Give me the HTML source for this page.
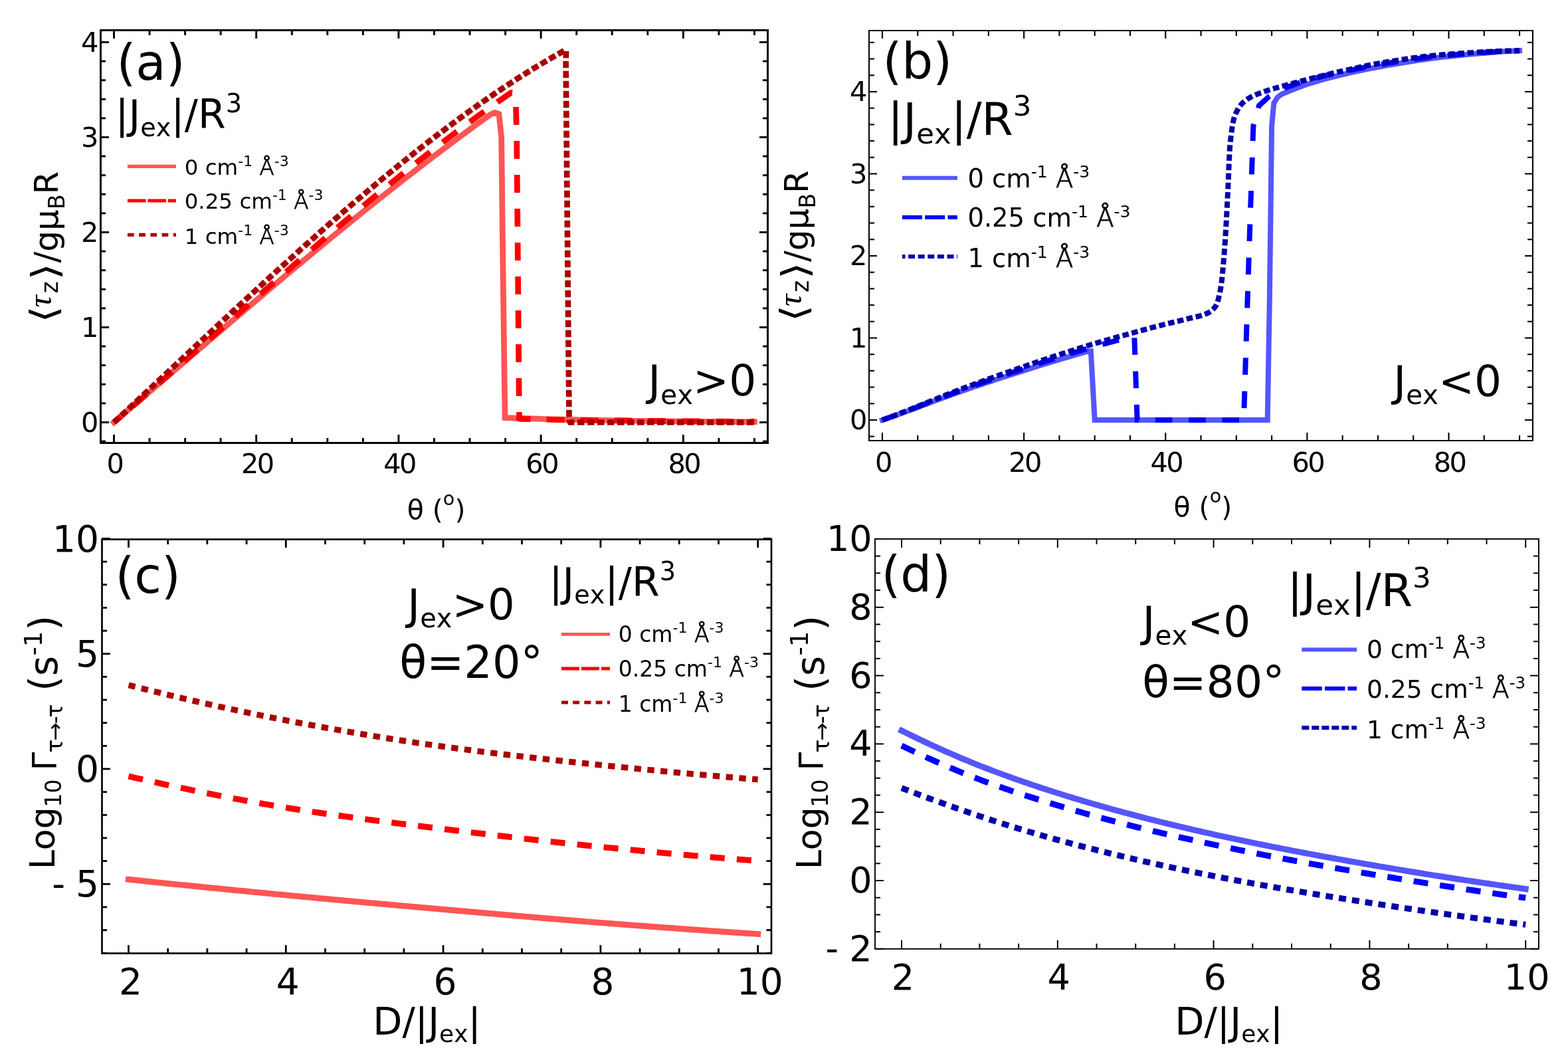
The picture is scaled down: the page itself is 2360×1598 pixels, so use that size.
<!DOCTYPE html>
<html><head><meta charset="utf-8"><style>
html,body{margin:0;padding:0;background:#fff;}
svg{display:block;}
text{font-family:"DejaVu Sans","Liberation Sans",sans-serif;font-kerning:none;fill:#000;}
</style></head><body>
<svg width="2360" height="1598" viewBox="0 0 2360 1598">
<rect width="2360" height="1598" fill="#fff"/>
<path d="M171.5,635.5 L176.26,631.42 L181.02,627.34 L185.78,623.25 L190.55,619.16 L195.31,615.08 L200.07,610.99 L204.83,606.9 L209.59,602.81 L214.35,598.71 L219.11,594.62 L223.88,590.53 L228.64,586.43 L233.4,582.34 L238.16,578.24 L242.92,574.15 L247.68,570.06 L252.44,565.96 L257.21,561.87 L261.97,557.77 L266.73,553.68 L271.49,549.59 L276.25,545.49 L281.01,541.4 L285.77,537.31 L290.54,533.22 L295.3,529.14 L300.06,525.05 L304.82,520.97 L309.58,516.88 L314.34,512.8 L319.1,508.72 L323.87,504.65 L328.63,500.57 L333.39,496.5 L338.15,492.43 L342.91,488.36 L347.67,484.3 L352.43,480.23 L357.2,476.18 L361.96,472.12 L366.72,468.07 L371.48,464.02 L376.24,459.97 L381,455.93 L385.77,451.89 L390.53,447.86 L395.29,443.82 L400.05,439.8 L404.81,435.78 L409.57,431.76 L414.33,427.74 L419.1,423.74 L423.86,419.73 L428.62,415.73 L433.38,411.74 L438.14,407.75 L442.9,403.76 L447.66,399.79 L452.43,395.81 L457.19,391.85 L461.95,387.88 L466.71,383.93 L471.47,379.98 L476.23,376.04 L480.99,372.1 L485.76,368.17 L490.52,364.24 L495.28,360.33 L500.04,356.42 L504.8,352.51 L509.56,348.61 L514.32,344.73 L519.09,340.84 L523.85,336.97 L528.61,333.1 L533.37,329.24 L538.13,325.39 L542.89,321.55 L547.65,317.71 L552.42,313.88 L557.18,310.06 L561.94,306.25 L566.7,302.45 L571.46,298.66 L576.22,294.87 L580.98,291.1 L585.75,287.33 L590.51,283.57 L595.27,279.83 L600.03,276.09 L604.79,272.36 L609.55,268.64 L614.31,264.93 L619.08,261.23 L623.84,257.54 L628.6,253.87 L633.36,250.2 L638.12,246.54 L642.88,242.89 L647.64,239.26 L652.41,235.63 L657.17,232.02 L661.93,228.41 L666.69,224.82 L671.45,221.24 L676.21,217.67 L680.97,214.12 L685.74,210.57 L690.5,207.04 L695.26,203.51 L700.02,200.01 L704.78,196.51 L709.54,193.02 L714.3,189.55 L719.07,186.09 L723.83,182.65 L728.59,179.21 L733.35,175.79 L738.11,172.39 L744.54,169.32 L750.97,171.46 L754.71,206.5 L756.32,349.5 L759.53,592.6 L760.07,628.49 L762.75,628.58 L775.6,629.08 L788.45,629.54 L801.31,629.97 L814.16,630.37 L827.01,630.74 L839.87,631.09 L852.72,631.41 L865.57,631.7 L878.43,631.98 L891.28,632.23 L904.13,632.47 L916.99,632.69 L929.84,632.89 L942.69,633.08 L955.55,633.25 L968.4,633.42 L981.25,633.57 L994.1,633.71 L1006.96,633.84 L1019.81,633.96 L1032.66,634.07 L1045.52,634.17 L1058.37,634.27 L1071.22,634.36 L1084.08,634.44 L1096.93,634.52 L1109.78,634.59 L1122.64,634.65 L1135.49,634.71" fill="none" stroke="#ff5555" stroke-width="8.7" stroke-linecap="square" stroke-linejoin="miter" stroke-miterlimit="1.5"/>
<path d="M171.5,635.5 L176.52,631.2 L181.54,626.89 L186.57,622.57 L191.59,618.25 L196.61,613.91 L201.63,609.57 L206.66,605.23 L211.68,600.88 L216.7,596.52 L221.72,592.16 L226.75,587.79 L231.77,583.42 L236.79,579.04 L241.81,574.66 L246.84,570.27 L251.86,565.88 L256.88,561.48 L261.9,557.08 L266.93,552.68 L271.95,548.28 L276.97,543.87 L281.99,539.46 L287.02,535.04 L292.04,530.63 L297.06,526.21 L302.08,521.79 L307.11,517.37 L312.13,512.95 L317.15,508.53 L322.17,504.11 L327.2,499.68 L332.22,495.26 L337.24,490.84 L342.26,486.41 L347.29,481.99 L352.31,477.57 L357.33,473.15 L362.35,468.74 L367.38,464.32 L372.4,459.91 L377.42,455.49 L382.44,451.09 L387.47,446.68 L392.49,442.28 L397.51,437.88 L402.53,433.48 L407.56,429.09 L412.58,424.7 L417.6,420.31 L422.62,415.93 L427.65,411.56 L432.67,407.19 L437.69,402.82 L442.71,398.47 L447.74,394.11 L452.76,389.77 L457.78,385.42 L462.8,381.09 L467.83,376.76 L472.85,372.44 L477.87,368.13 L482.89,363.83 L487.92,359.53 L492.94,355.24 L497.96,350.96 L502.98,346.69 L508.01,342.43 L513.03,338.17 L518.05,333.93 L523.07,329.69 L528.1,325.47 L533.12,321.26 L538.14,317.05 L543.16,312.86 L548.19,308.68 L553.21,304.51 L558.23,300.35 L563.25,296.2 L568.28,292.07 L573.3,287.94 L578.32,283.83 L583.34,279.73 L588.36,275.65 L593.39,271.58 L598.41,267.52 L603.43,263.48 L608.45,259.45 L613.48,255.43 L618.5,251.43 L623.52,247.44 L628.54,243.47 L633.57,239.52 L638.59,235.58 L643.61,231.65 L648.63,227.74 L653.66,223.85 L658.68,219.98 L663.7,216.12 L668.72,212.28 L673.75,208.45 L678.77,204.65 L683.79,200.86 L688.81,197.09 L693.84,193.34 L698.86,189.6 L703.88,185.89 L708.9,182.19 L713.93,178.52 L718.95,174.86 L723.97,171.23 L728.99,167.61 L734.02,164.02 L739.04,160.44 L744.06,156.89 L749.08,153.36 L754.11,149.85 L759.13,146.36 L764.15,142.89 L769.17,139.45 L773.46,140 L776.14,146.44 L777.74,206.5 L781.49,629.78 L783.1,630.35 L785.24,630.43 L797.32,630.69 L809.4,630.94 L821.47,631.18 L833.55,631.41 L845.63,631.62 L857.71,631.82 L869.78,632.02 L881.86,632.2 L893.94,632.37 L906.02,632.53 L918.09,632.69 L930.17,632.84 L942.25,632.97 L954.33,633.11 L966.4,633.23 L978.48,633.35 L990.56,633.46 L1002.64,633.57 L1014.71,633.67 L1026.79,633.77 L1038.87,633.86 L1050.95,633.94 L1063.02,634.02 L1075.1,634.1 L1087.18,634.17 L1099.26,634.24 L1111.33,634.31 L1123.41,634.37 L1135.49,634.43" fill="none" stroke="#ff0000" stroke-width="8.7" stroke-linecap="butt" stroke-linejoin="miter" stroke-miterlimit="1.5" stroke-dasharray="27 24" stroke-dashoffset="13"/>
<path d="M171.5,635.5 L176.05,631.28 L180.6,627.06 L185.15,622.84 L189.7,618.61 L194.25,614.38 L198.8,610.15 L203.35,605.91 L207.9,601.67 L212.45,597.43 L217,593.19 L221.55,588.94 L226.1,584.69 L230.65,580.44 L235.21,576.19 L239.76,571.93 L244.31,567.68 L248.86,563.42 L253.41,559.17 L257.96,554.91 L262.51,550.65 L267.06,546.4 L271.61,542.14 L276.16,537.88 L280.71,533.63 L285.26,529.37 L289.81,525.12 L294.36,520.86 L298.91,516.61 L303.46,512.36 L308.01,508.11 L312.56,503.87 L317.11,499.62 L321.66,495.38 L326.21,491.14 L330.76,486.91 L335.31,482.67 L339.86,478.44 L344.41,474.22 L348.96,469.99 L353.52,465.78 L358.07,461.56 L362.62,457.35 L367.17,453.14 L371.72,448.94 L376.27,444.75 L380.82,440.56 L385.37,436.37 L389.92,432.19 L394.47,428.02 L399.02,423.85 L403.57,419.69 L408.12,415.53 L412.67,411.38 L417.22,407.24 L421.77,403.11 L426.32,398.98 L430.87,394.86 L435.42,390.75 L439.97,386.64 L444.52,382.55 L449.07,378.46 L453.62,374.38 L458.17,370.31 L462.72,366.25 L467.27,362.19 L471.82,358.15 L476.38,354.12 L480.93,350.09 L485.48,346.08 L490.03,342.08 L494.58,338.08 L499.13,334.1 L503.68,330.13 L508.23,326.17 L512.78,322.22 L517.33,318.28 L521.88,314.36 L526.43,310.44 L530.98,306.54 L535.53,302.65 L540.08,298.78 L544.63,294.91 L549.18,291.06 L553.73,287.22 L558.28,283.4 L562.83,279.59 L567.38,275.79 L571.93,272.01 L576.48,268.24 L581.03,264.48 L585.58,260.74 L590.13,257.02 L594.69,253.31 L599.24,249.61 L603.79,245.93 L608.34,242.27 L612.89,238.62 L617.44,234.99 L621.99,231.38 L626.54,227.78 L631.09,224.19 L635.64,220.63 L640.19,217.08 L644.74,213.55 L649.29,210.04 L653.84,206.54 L658.39,203.07 L662.94,199.61 L667.49,196.17 L672.04,192.75 L676.59,189.34 L681.14,185.96 L685.69,182.6 L690.24,179.25 L694.79,175.93 L699.34,172.62 L703.89,169.34 L708.44,166.07 L712.99,162.83 L717.55,159.6 L722.1,156.4 L726.65,153.22 L731.2,150.06 L735.75,146.92 L740.3,143.81 L744.85,140.71 L749.4,137.64 L753.95,134.59 L758.5,131.56 L763.05,128.56 L767.6,125.58 L772.15,122.62 L776.7,119.68 L781.25,116.77 L785.8,113.89 L790.35,111.02 L794.9,108.19 L799.45,105.37 L804,102.58 L808.55,99.82 L813.1,97.08 L817.65,94.37 L822.2,91.68 L826.75,89.02 L831.3,86.38 L835.86,83.77 L840.41,81.19 L844.96,78.63 L849.51,76.1 L852.18,75.65 L851.65,92.1 L856.58,632.64 L858.08,635.5 L921.27,635.5 L1028.38,635.5 L1135.49,635.5" fill="none" stroke="#aa0000" stroke-width="8.7" stroke-linecap="butt" stroke-linejoin="miter" stroke-miterlimit="1.5" stroke-dasharray="10.5 4.5" stroke-dashoffset="0"/>
<rect x="151.5" y="45.5" width="1004" height="621" fill="none" stroke="#000" stroke-width="3" stroke-linecap="square"/>
<line x1="171.5" y1="666.5" x2="171.5" y2="654" stroke="#000" stroke-width="2.9"/>
<line x1="171.5" y1="45.5" x2="171.5" y2="58" stroke="#000" stroke-width="2.9"/>
<line x1="225.06" y1="666.5" x2="225.06" y2="659" stroke="#000" stroke-width="2.9"/>
<line x1="225.06" y1="45.5" x2="225.06" y2="53" stroke="#000" stroke-width="2.9"/>
<line x1="278.61" y1="666.5" x2="278.61" y2="659" stroke="#000" stroke-width="2.9"/>
<line x1="278.61" y1="45.5" x2="278.61" y2="53" stroke="#000" stroke-width="2.9"/>
<line x1="332.16" y1="666.5" x2="332.16" y2="659" stroke="#000" stroke-width="2.9"/>
<line x1="332.16" y1="45.5" x2="332.16" y2="53" stroke="#000" stroke-width="2.9"/>
<line x1="385.72" y1="666.5" x2="385.72" y2="654" stroke="#000" stroke-width="2.9"/>
<line x1="385.72" y1="45.5" x2="385.72" y2="58" stroke="#000" stroke-width="2.9"/>
<line x1="439.28" y1="666.5" x2="439.28" y2="659" stroke="#000" stroke-width="2.9"/>
<line x1="439.28" y1="45.5" x2="439.28" y2="53" stroke="#000" stroke-width="2.9"/>
<line x1="492.83" y1="666.5" x2="492.83" y2="659" stroke="#000" stroke-width="2.9"/>
<line x1="492.83" y1="45.5" x2="492.83" y2="53" stroke="#000" stroke-width="2.9"/>
<line x1="546.38" y1="666.5" x2="546.38" y2="659" stroke="#000" stroke-width="2.9"/>
<line x1="546.38" y1="45.5" x2="546.38" y2="53" stroke="#000" stroke-width="2.9"/>
<line x1="599.94" y1="666.5" x2="599.94" y2="654" stroke="#000" stroke-width="2.9"/>
<line x1="599.94" y1="45.5" x2="599.94" y2="58" stroke="#000" stroke-width="2.9"/>
<line x1="653.5" y1="666.5" x2="653.5" y2="659" stroke="#000" stroke-width="2.9"/>
<line x1="653.5" y1="45.5" x2="653.5" y2="53" stroke="#000" stroke-width="2.9"/>
<line x1="707.05" y1="666.5" x2="707.05" y2="659" stroke="#000" stroke-width="2.9"/>
<line x1="707.05" y1="45.5" x2="707.05" y2="53" stroke="#000" stroke-width="2.9"/>
<line x1="760.61" y1="666.5" x2="760.61" y2="659" stroke="#000" stroke-width="2.9"/>
<line x1="760.61" y1="45.5" x2="760.61" y2="53" stroke="#000" stroke-width="2.9"/>
<line x1="814.16" y1="666.5" x2="814.16" y2="654" stroke="#000" stroke-width="2.9"/>
<line x1="814.16" y1="45.5" x2="814.16" y2="58" stroke="#000" stroke-width="2.9"/>
<line x1="867.72" y1="666.5" x2="867.72" y2="659" stroke="#000" stroke-width="2.9"/>
<line x1="867.72" y1="45.5" x2="867.72" y2="53" stroke="#000" stroke-width="2.9"/>
<line x1="921.27" y1="666.5" x2="921.27" y2="659" stroke="#000" stroke-width="2.9"/>
<line x1="921.27" y1="45.5" x2="921.27" y2="53" stroke="#000" stroke-width="2.9"/>
<line x1="974.83" y1="666.5" x2="974.83" y2="659" stroke="#000" stroke-width="2.9"/>
<line x1="974.83" y1="45.5" x2="974.83" y2="53" stroke="#000" stroke-width="2.9"/>
<line x1="1028.38" y1="666.5" x2="1028.38" y2="654" stroke="#000" stroke-width="2.9"/>
<line x1="1028.38" y1="45.5" x2="1028.38" y2="58" stroke="#000" stroke-width="2.9"/>
<line x1="1081.93" y1="666.5" x2="1081.93" y2="659" stroke="#000" stroke-width="2.9"/>
<line x1="1081.93" y1="45.5" x2="1081.93" y2="53" stroke="#000" stroke-width="2.9"/>
<line x1="1135.49" y1="666.5" x2="1135.49" y2="659" stroke="#000" stroke-width="2.9"/>
<line x1="1135.49" y1="45.5" x2="1135.49" y2="53" stroke="#000" stroke-width="2.9"/>
<line x1="151.5" y1="664.1" x2="159" y2="664.1" stroke="#000" stroke-width="2.9"/>
<line x1="1155.5" y1="664.1" x2="1148" y2="664.1" stroke="#000" stroke-width="2.9"/>
<line x1="151.5" y1="635.5" x2="164" y2="635.5" stroke="#000" stroke-width="2.9"/>
<line x1="1155.5" y1="635.5" x2="1143" y2="635.5" stroke="#000" stroke-width="2.9"/>
<line x1="151.5" y1="606.9" x2="159" y2="606.9" stroke="#000" stroke-width="2.9"/>
<line x1="1155.5" y1="606.9" x2="1148" y2="606.9" stroke="#000" stroke-width="2.9"/>
<line x1="151.5" y1="578.3" x2="159" y2="578.3" stroke="#000" stroke-width="2.9"/>
<line x1="1155.5" y1="578.3" x2="1148" y2="578.3" stroke="#000" stroke-width="2.9"/>
<line x1="151.5" y1="549.7" x2="159" y2="549.7" stroke="#000" stroke-width="2.9"/>
<line x1="1155.5" y1="549.7" x2="1148" y2="549.7" stroke="#000" stroke-width="2.9"/>
<line x1="151.5" y1="521.1" x2="159" y2="521.1" stroke="#000" stroke-width="2.9"/>
<line x1="1155.5" y1="521.1" x2="1148" y2="521.1" stroke="#000" stroke-width="2.9"/>
<line x1="151.5" y1="492.5" x2="164" y2="492.5" stroke="#000" stroke-width="2.9"/>
<line x1="1155.5" y1="492.5" x2="1143" y2="492.5" stroke="#000" stroke-width="2.9"/>
<line x1="151.5" y1="463.9" x2="159" y2="463.9" stroke="#000" stroke-width="2.9"/>
<line x1="1155.5" y1="463.9" x2="1148" y2="463.9" stroke="#000" stroke-width="2.9"/>
<line x1="151.5" y1="435.3" x2="159" y2="435.3" stroke="#000" stroke-width="2.9"/>
<line x1="1155.5" y1="435.3" x2="1148" y2="435.3" stroke="#000" stroke-width="2.9"/>
<line x1="151.5" y1="406.7" x2="159" y2="406.7" stroke="#000" stroke-width="2.9"/>
<line x1="1155.5" y1="406.7" x2="1148" y2="406.7" stroke="#000" stroke-width="2.9"/>
<line x1="151.5" y1="378.1" x2="159" y2="378.1" stroke="#000" stroke-width="2.9"/>
<line x1="1155.5" y1="378.1" x2="1148" y2="378.1" stroke="#000" stroke-width="2.9"/>
<line x1="151.5" y1="349.5" x2="164" y2="349.5" stroke="#000" stroke-width="2.9"/>
<line x1="1155.5" y1="349.5" x2="1143" y2="349.5" stroke="#000" stroke-width="2.9"/>
<line x1="151.5" y1="320.9" x2="159" y2="320.9" stroke="#000" stroke-width="2.9"/>
<line x1="1155.5" y1="320.9" x2="1148" y2="320.9" stroke="#000" stroke-width="2.9"/>
<line x1="151.5" y1="292.3" x2="159" y2="292.3" stroke="#000" stroke-width="2.9"/>
<line x1="1155.5" y1="292.3" x2="1148" y2="292.3" stroke="#000" stroke-width="2.9"/>
<line x1="151.5" y1="263.7" x2="159" y2="263.7" stroke="#000" stroke-width="2.9"/>
<line x1="1155.5" y1="263.7" x2="1148" y2="263.7" stroke="#000" stroke-width="2.9"/>
<line x1="151.5" y1="235.1" x2="159" y2="235.1" stroke="#000" stroke-width="2.9"/>
<line x1="1155.5" y1="235.1" x2="1148" y2="235.1" stroke="#000" stroke-width="2.9"/>
<line x1="151.5" y1="206.5" x2="164" y2="206.5" stroke="#000" stroke-width="2.9"/>
<line x1="1155.5" y1="206.5" x2="1143" y2="206.5" stroke="#000" stroke-width="2.9"/>
<line x1="151.5" y1="177.9" x2="159" y2="177.9" stroke="#000" stroke-width="2.9"/>
<line x1="1155.5" y1="177.9" x2="1148" y2="177.9" stroke="#000" stroke-width="2.9"/>
<line x1="151.5" y1="149.3" x2="159" y2="149.3" stroke="#000" stroke-width="2.9"/>
<line x1="1155.5" y1="149.3" x2="1148" y2="149.3" stroke="#000" stroke-width="2.9"/>
<line x1="151.5" y1="120.7" x2="159" y2="120.7" stroke="#000" stroke-width="2.9"/>
<line x1="1155.5" y1="120.7" x2="1148" y2="120.7" stroke="#000" stroke-width="2.9"/>
<line x1="151.5" y1="92.1" x2="159" y2="92.1" stroke="#000" stroke-width="2.9"/>
<line x1="1155.5" y1="92.1" x2="1148" y2="92.1" stroke="#000" stroke-width="2.9"/>
<line x1="151.5" y1="63.5" x2="164" y2="63.5" stroke="#000" stroke-width="2.9"/>
<line x1="1155.5" y1="63.5" x2="1143" y2="63.5" stroke="#000" stroke-width="2.9"/>
<text x="148.5" y="649.5" font-size="41.5" text-anchor="end">0</text>
<text x="148.5" y="506.5" font-size="41.5" text-anchor="end">1</text>
<text x="148.5" y="363.5" font-size="41.5" text-anchor="end">2</text>
<text x="148.5" y="220.5" font-size="41.5" text-anchor="end">3</text>
<text x="148.5" y="77.5" font-size="41.5" text-anchor="end">4</text>
<text x="172.5" y="712" font-size="41.5" text-anchor="middle" letter-spacing="-2.6">0</text>
<text x="386.72" y="712" font-size="41.5" text-anchor="middle" letter-spacing="-2.6">20</text>
<text x="600.94" y="712" font-size="41.5" text-anchor="middle" letter-spacing="-2.6">40</text>
<text x="815.16" y="712" font-size="41.5" text-anchor="middle" letter-spacing="-2.6">60</text>
<text x="1029.38" y="712" font-size="41.5" text-anchor="middle" letter-spacing="-2.6">80</text>
<text x="175.5" y="120" font-size="74" text-anchor="start">(a)</text>
<text x="173.4" y="193" font-size="60" text-anchor="start">|J<tspan font-size="38.3" dy="11.5">ex</tspan><tspan dy="-11.5">|/R</tspan><tspan font-size="38.3" dy="-24.5">3</tspan></text>
<line x1="192" y1="250.3" x2="265" y2="250.3" stroke="#ff5555" stroke-width="5.2"/>
<text x="277.7" y="263" font-size="32.5" text-anchor="start">0 cm<tspan font-size="22" dy="-13.4">-1</tspan><tspan dy="13.4"> </tspan><tspan style="font-weight:200;stroke:#000;stroke-width:0.9px">Å</tspan><tspan font-size="22" dy="-13.4">-3</tspan></text>
<line x1="192" y1="302" x2="265" y2="302" stroke="#ff0000" stroke-width="5.2" stroke-dasharray="27.5 3"/>
<text x="277.7" y="313.9" font-size="32.5" text-anchor="start">0.25 cm<tspan font-size="22" dy="-13.4">-1</tspan><tspan dy="13.4"> </tspan><tspan style="font-weight:200;stroke:#000;stroke-width:0.9px">Å</tspan><tspan font-size="22" dy="-13.4">-3</tspan></text>
<line x1="192" y1="353.4" x2="265" y2="353.4" stroke="#aa0000" stroke-width="5.2" stroke-dasharray="9.7 7.5"/>
<text x="277.7" y="367.4" font-size="32.5" text-anchor="start">1 cm<tspan font-size="22" dy="-13.4">-1</tspan><tspan dy="13.4"> </tspan><tspan style="font-weight:200;stroke:#000;stroke-width:0.9px">Å</tspan><tspan font-size="22" dy="-13.4">-3</tspan></text>
<text x="975.3" y="594.9" font-size="64.5" text-anchor="start">J<tspan font-size="40.4" dy="12.6">ex</tspan><tspan dy="-12.6">&gt;0</tspan></text>
<text transform="translate(85,486) rotate(-90) scale(1.2,1)" x="0" y="0" font-size="55" text-anchor="start">⟨</text>
<text transform="translate(77,462.5) rotate(-90)" x="0" y="0" font-size="51" text-anchor="start" style="font-family:'Liberation Serif',serif;font-style:italic;">τ</text>
<text transform="translate(87.1,441.5) rotate(-90)" x="0" y="0" font-size="35" text-anchor="start">z</text>
<text transform="translate(86.75,421.6) rotate(-90) scale(1.2,1)" x="0" y="0" font-size="55" text-anchor="start">⟩</text>
<text transform="translate(86.7,395.5) rotate(-90)" x="0" y="0" font-size="50" text-anchor="start">/gμ<tspan font-size="33" dy="10.4">B</tspan><tspan dy="-10.4">R</tspan></text>
<text x="612.7" y="780.5" font-size="41" text-anchor="start">θ (<tspan font-size="28.7" dy="-21">o</tspan><tspan dy="21">)</tspan></text>
<path d="M1328,632 L1331.93,630.67 L1335.85,629.33 L1339.78,627.97 L1343.7,626.61 L1347.63,625.23 L1351.55,623.84 L1355.48,622.45 L1359.4,621.04 L1363.33,619.61 L1367.25,618.17 L1371.18,616.7 L1375.1,615.22 L1379.03,613.73 L1382.95,612.23 L1386.88,610.73 L1390.8,609.24 L1394.73,607.75 L1398.65,606.27 L1402.58,604.81 L1406.5,603.36 L1410.43,601.91 L1414.35,600.47 L1418.28,599.02 L1422.2,597.59 L1426.13,596.16 L1430.05,594.74 L1433.98,593.32 L1437.91,591.92 L1441.83,590.52 L1445.76,589.14 L1449.68,587.76 L1453.61,586.39 L1457.53,585.03 L1461.46,583.68 L1465.38,582.33 L1469.31,580.99 L1473.23,579.66 L1477.16,578.34 L1481.08,577.02 L1485.01,575.7 L1488.93,574.4 L1492.86,573.1 L1496.78,571.81 L1500.71,570.52 L1504.63,569.25 L1508.56,567.98 L1512.48,566.71 L1516.41,565.45 L1520.33,564.18 L1524.26,562.93 L1528.18,561.67 L1532.11,560.41 L1536.03,559.15 L1539.96,557.89 L1543.89,556.64 L1547.81,555.38 L1551.74,554.14 L1555.66,552.89 L1559.59,551.66 L1563.51,550.43 L1567.44,549.21 L1571.36,548 L1575.29,546.81 L1579.21,545.61 L1583.14,544.43 L1587.06,543.26 L1590.99,542.09 L1594.91,540.92 L1598.84,539.76 L1602.76,538.61 L1606.69,537.46 L1610.61,536.32 L1614.54,535.17 L1618.46,534.03 L1622.39,532.89 L1626.31,531.75 L1630.24,530.62 L1634.16,529.51 L1638.09,528.41 L1641.82,528.26 L1647.68,632 L1754.24,632 L1907.69,632 L1910.88,446.75 L1914.08,189.87 L1917.28,155.29 L1922.6,146.64 L1929,141.7 L1935.07,139.19 L1941.14,136.72 L1947.2,134.3 L1953.27,131.96 L1959.34,129.71 L1965.41,127.56 L1971.48,125.53 L1977.55,123.64 L1983.61,121.86 L1989.68,120.15 L1995.75,118.48 L2001.82,116.86 L2007.89,115.29 L2013.96,113.77 L2020.03,112.29 L2026.09,110.86 L2032.16,109.47 L2038.23,108.12 L2044.3,106.81 L2050.37,105.54 L2056.44,104.31 L2062.51,103.11 L2068.57,101.95 L2074.64,100.82 L2080.71,99.71 L2086.78,98.62 L2092.85,97.54 L2098.92,96.49 L2104.98,95.46 L2111.05,94.45 L2117.12,93.46 L2123.19,92.5 L2129.26,91.56 L2135.33,90.65 L2141.4,89.77 L2147.46,88.92 L2153.53,88.1 L2159.6,87.32 L2165.67,86.57 L2171.74,85.86 L2177.81,85.18 L2183.88,84.54 L2189.94,83.91 L2196.01,83.29 L2202.08,82.69 L2208.15,82.1 L2214.22,81.52 L2220.29,80.96 L2226.35,80.42 L2232.42,79.9 L2238.49,79.4 L2244.56,78.91 L2250.63,78.46 L2256.7,78.02 L2262.77,77.61 L2268.83,77.23 L2274.9,76.87 L2280.97,76.55 L2287.04,76.25" fill="none" stroke="#5555ff" stroke-width="8" stroke-linecap="square" stroke-linejoin="miter" stroke-miterlimit="1.5"/>
<path d="M1328,632 L1332.21,630.51 L1336.43,629.01 L1340.64,627.5 L1344.86,625.97 L1349.07,624.43 L1353.29,622.88 L1357.5,621.31 L1361.72,619.73 L1365.93,618.13 L1370.15,616.5 L1374.36,614.86 L1378.57,613.2 L1382.79,611.53 L1387,609.87 L1391.22,608.2 L1395.43,606.55 L1399.65,604.9 L1403.86,603.28 L1408.08,601.67 L1412.29,600.05 L1416.5,598.44 L1420.72,596.84 L1424.93,595.25 L1429.15,593.66 L1433.36,592.08 L1437.58,590.51 L1441.79,588.95 L1446.01,587.41 L1450.22,585.87 L1454.44,584.35 L1458.65,582.83 L1462.86,581.32 L1467.08,579.82 L1471.29,578.33 L1475.51,576.84 L1479.72,575.36 L1483.94,573.89 L1488.15,572.43 L1492.37,570.97 L1496.58,569.53 L1500.79,568.09 L1505.01,566.66 L1509.22,565.24 L1513.44,563.82 L1517.65,562.41 L1521.87,561 L1526.08,559.59 L1530.3,558.18 L1534.51,556.77 L1538.73,555.36 L1542.94,553.95 L1547.15,552.55 L1551.37,551.15 L1555.58,549.75 L1559.8,548.37 L1564.01,546.99 L1568.23,545.63 L1572.44,544.27 L1576.66,542.93 L1580.87,541.6 L1585.08,540.27 L1589.3,538.95 L1593.51,537.64 L1597.73,536.34 L1601.94,535.04 L1606.16,533.75 L1610.37,532.46 L1614.59,531.17 L1618.8,529.89 L1623.02,528.61 L1627.23,527.33 L1631.44,526.06 L1635.66,524.81 L1639.87,523.58 L1644.09,522.38 L1648.3,521.19 L1652.52,520.02 L1656.73,518.85 L1660.95,517.7 L1665.16,516.56 L1669.38,515.43 L1673.59,514.31 L1677.8,513.19 L1682.02,512.08 L1686.23,510.97 L1690.45,509.87 L1694.66,508.76 L1698.88,507.66 L1703.09,506.56 L1707.35,507.88 L1711.62,632 L1807.52,632 L1871.99,632 L1878.92,409.7 L1886.37,189.87 L1894.9,159 L1909.82,145.41 L1916.21,141.63 L1922.6,137.97 L1929,134.64 L1935.39,131.83 L1941.79,129.41 L1948.18,127.12 L1954.57,124.97 L1960.97,122.93 L1967.36,121 L1973.75,119.17 L1980.15,117.43 L1986.54,115.78 L1992.93,114.21 L1999.33,112.71 L2005.72,111.27 L2012.12,109.88 L2018.51,108.53 L2024.9,107.21 L2031.3,105.9 L2037.69,104.61 L2044.08,103.35 L2050.48,102.1 L2056.87,100.88 L2063.26,99.67 L2069.66,98.5 L2076.05,97.34 L2082.44,96.22 L2088.84,95.12 L2095.23,94.05 L2101.63,93.01 L2108.02,92 L2114.41,91.02 L2120.81,90.08 L2127.2,89.17 L2133.59,88.29 L2139.99,87.45 L2146.38,86.65 L2152.77,85.89 L2159.17,85.16 L2165.56,84.48 L2171.96,83.83 L2178.35,83.23 L2184.74,82.67 L2191.14,82.12 L2197.53,81.58 L2203.92,81.05 L2210.32,80.54 L2216.71,80.05 L2223.1,79.57 L2229.5,79.12 L2235.89,78.68 L2242.28,78.28 L2248.68,77.9 L2255.07,77.54 L2261.47,77.22 L2267.86,76.92 L2274.25,76.66 L2280.65,76.44 L2287.04,76.25" fill="none" stroke="#0000ff" stroke-width="8" stroke-linecap="butt" stroke-linejoin="miter" stroke-miterlimit="1.5" stroke-dasharray="25.5 24.8" stroke-dashoffset="1.63"/>
<path d="M1328,632 L1332.95,630.18 L1337.9,628.34 L1342.85,626.49 L1347.81,624.62 L1352.76,622.73 L1357.71,620.82 L1362.66,618.89 L1367.61,616.93 L1372.56,614.94 L1377.51,612.93 L1382.46,610.9 L1387.42,608.88 L1392.37,606.85 L1397.32,604.84 L1402.27,602.86 L1407.22,600.89 L1412.17,598.93 L1417.12,596.97 L1422.07,595.02 L1427.03,593.08 L1431.98,591.15 L1436.93,589.24 L1441.88,587.34 L1446.83,585.45 L1451.78,583.58 L1456.73,581.73 L1461.68,579.88 L1466.64,578.05 L1471.59,576.23 L1476.54,574.41 L1481.49,572.61 L1486.44,570.82 L1491.39,569.04 L1496.34,567.27 L1501.29,565.51 L1506.25,563.77 L1511.2,562.03 L1516.15,560.3 L1521.1,558.57 L1526.05,556.84 L1531,555.12 L1535.95,553.39 L1540.9,551.67 L1545.86,549.95 L1550.81,548.23 L1555.76,546.53 L1560.71,544.83 L1565.66,543.15 L1570.61,541.49 L1575.56,539.83 L1580.51,538.2 L1585.47,536.57 L1590.42,534.96 L1595.37,533.35 L1600.32,531.75 L1605.27,530.16 L1610.22,528.58 L1615.17,527 L1620.13,525.42 L1625.08,523.85 L1630.03,522.28 L1634.98,520.74 L1639.93,519.23 L1644.88,517.75 L1649.83,516.29 L1654.78,514.85 L1659.74,513.42 L1664.69,512.01 L1669.64,510.61 L1674.59,509.22 L1679.54,507.84 L1684.49,506.47 L1689.44,505.1 L1694.39,503.74 L1699.35,502.38 L1704.3,501.01 L1709.25,499.65 L1714.2,498.3 L1719.15,496.95 L1724.1,495.61 L1729.05,494.28 L1734,492.96 L1738.96,491.66 L1743.91,490.37 L1748.86,489.1 L1753.81,487.87 L1758.76,486.67 L1763.71,485.49 L1768.66,484.31 L1773.61,483.14 L1778.57,481.94 L1783.52,480.71 L1788.47,479.44 L1793.42,478.25 L1798.37,477.15 L1803.32,476.01 L1808.27,474.68 L1813.22,473.05 L1818.18,470.95 L1818.71,470.68 L1819.25,470.39 L1819.79,470.09 L1820.33,469.78 L1820.86,469.45 L1821.4,469.1 L1821.94,468.73 L1822.47,468.34 L1823.01,467.94 L1823.55,467.5 L1824.09,467.05 L1824.62,466.57 L1825.16,466.07 L1825.7,465.54 L1826.24,464.98 L1826.77,464.39 L1827.31,463.77 L1827.85,463.12 L1828.38,462.44 L1828.92,461.72 L1829.46,460.97 L1830,460.19 L1830.53,459.26 L1831.07,458.15 L1831.61,456.86 L1832.15,455.39 L1832.68,453.76 L1833.22,451.96 L1833.76,450 L1834.29,447.89 L1834.83,445.63 L1835.37,443.23 L1835.91,440.68 L1836.44,438.01 L1836.98,435.2 L1837.52,432.25 L1838.06,428.79 L1838.59,424.73 L1839.13,420.13 L1839.67,415.03 L1840.2,409.49 L1840.74,403.55 L1841.28,397.26 L1841.82,390.67 L1842.35,383.83 L1842.89,376.79 L1843.43,369.6 L1843.97,362.25 L1844.5,354.15 L1845.04,345.3 L1845.58,335.82 L1846.11,325.85 L1846.65,315.52 L1847.19,304.97 L1847.73,294.33 L1848.26,283.45 L1848.8,270.82 L1849.34,257.23 L1849.88,243.87 L1850.41,231.95 L1850.95,222.68 L1851.49,216.69 L1852.02,211.52 L1852.56,206.69 L1853.1,202.21 L1853.64,198.06 L1854.17,194.23 L1854.71,190.72 L1855.25,187.52 L1855.79,184.62 L1856.32,182.02 L1856.86,179.69 L1857.4,177.63 L1857.93,175.85 L1858.47,174.31 L1859.01,172.99 L1859.55,171.73 L1860.08,170.52 L1860.62,169.36 L1861.16,168.24 L1861.7,167.16 L1862.23,166.13 L1862.77,165.14 L1863.31,164.19 L1863.84,163.28 L1864.38,162.4 L1864.92,161.57 L1865.46,160.77 L1865.99,160 L1866.53,159.26 L1867.07,158.56 L1867.61,157.88 L1868.14,157.23 L1868.68,156.61 L1869.22,156.02 L1869.75,155.45 L1870.29,154.9 L1870.83,154.37 L1871.37,153.87 L1871.9,153.38 L1872.44,152.91 L1872.98,152.46 L1873.52,152.02 L1874.05,151.59 L1874.59,151.18 L1875.13,150.78 L1875.66,150.39 L1876.2,150.01 L1876.74,149.63 L1877.28,149.27 L1877.81,148.91 L1878.35,148.56 L1878.89,148.22 L1879.43,147.88 L1879.96,147.56 L1880.5,147.24 L1881.04,146.92 L1881.57,146.62 L1882.11,146.32 L1887.24,143.77 L1892.36,141.64 L1897.49,139.74 L1902.61,137.91 L1907.74,136.14 L1912.87,134.52 L1917.99,133.01 L1923.12,131.58 L1928.24,130.2 L1933.37,128.85 L1938.49,127.49 L1943.62,126.1 L1948.75,124.71 L1953.87,123.33 L1959,121.96 L1964.12,120.61 L1969.25,119.26 L1974.37,117.93 L1979.5,116.62 L1984.63,115.32 L1989.75,114.04 L1994.88,112.78 L2000,111.54 L2005.13,110.33 L2010.25,109.13 L2015.38,107.97 L2020.51,106.82 L2025.63,105.67 L2030.76,104.53 L2035.88,103.41 L2041.01,102.29 L2046.13,101.19 L2051.26,100.1 L2056.38,99.04 L2061.51,98 L2066.64,96.99 L2071.76,96.01 L2076.89,95.06 L2082.01,94.15 L2087.14,93.27 L2092.26,92.44 L2097.39,91.63 L2102.52,90.84 L2107.64,90.05 L2112.77,89.27 L2117.89,88.51 L2123.02,87.77 L2128.14,87.05 L2133.27,86.36 L2138.4,85.69 L2143.52,85.06 L2148.65,84.46 L2153.77,83.9 L2158.9,83.38 L2164.02,82.9 L2169.15,82.48 L2174.28,82.08 L2179.4,81.69 L2184.53,81.3 L2189.65,80.92 L2194.78,80.54 L2199.9,80.17 L2205.03,79.81 L2210.15,79.46 L2215.28,79.12 L2220.41,78.79 L2225.53,78.48 L2230.66,78.18 L2235.78,77.9 L2240.91,77.63 L2246.03,77.39 L2251.16,77.16 L2256.29,76.96 L2261.41,76.77 L2266.54,76.62 L2271.66,76.48 L2276.79,76.38 L2281.91,76.3 L2287.04,76.25" fill="none" stroke="#0000aa" stroke-width="8" stroke-linecap="butt" stroke-linejoin="miter" stroke-miterlimit="1.5" stroke-dasharray="9.6 4.6" stroke-dashoffset="0"/>
<rect x="1308" y="46" width="999" height="617" fill="none" stroke="#000" stroke-width="2" stroke-linecap="square"/>
<line x1="1328" y1="663" x2="1328" y2="651" stroke="#000" stroke-width="2.1"/>
<line x1="1328" y1="46" x2="1328" y2="58" stroke="#000" stroke-width="2.1"/>
<line x1="1381.28" y1="663" x2="1381.28" y2="655" stroke="#000" stroke-width="2.1"/>
<line x1="1381.28" y1="46" x2="1381.28" y2="54" stroke="#000" stroke-width="2.1"/>
<line x1="1434.56" y1="663" x2="1434.56" y2="655" stroke="#000" stroke-width="2.1"/>
<line x1="1434.56" y1="46" x2="1434.56" y2="54" stroke="#000" stroke-width="2.1"/>
<line x1="1487.84" y1="663" x2="1487.84" y2="655" stroke="#000" stroke-width="2.1"/>
<line x1="1487.84" y1="46" x2="1487.84" y2="54" stroke="#000" stroke-width="2.1"/>
<line x1="1541.12" y1="663" x2="1541.12" y2="651" stroke="#000" stroke-width="2.1"/>
<line x1="1541.12" y1="46" x2="1541.12" y2="58" stroke="#000" stroke-width="2.1"/>
<line x1="1594.4" y1="663" x2="1594.4" y2="655" stroke="#000" stroke-width="2.1"/>
<line x1="1594.4" y1="46" x2="1594.4" y2="54" stroke="#000" stroke-width="2.1"/>
<line x1="1647.68" y1="663" x2="1647.68" y2="655" stroke="#000" stroke-width="2.1"/>
<line x1="1647.68" y1="46" x2="1647.68" y2="54" stroke="#000" stroke-width="2.1"/>
<line x1="1700.96" y1="663" x2="1700.96" y2="655" stroke="#000" stroke-width="2.1"/>
<line x1="1700.96" y1="46" x2="1700.96" y2="54" stroke="#000" stroke-width="2.1"/>
<line x1="1754.24" y1="663" x2="1754.24" y2="651" stroke="#000" stroke-width="2.1"/>
<line x1="1754.24" y1="46" x2="1754.24" y2="58" stroke="#000" stroke-width="2.1"/>
<line x1="1807.52" y1="663" x2="1807.52" y2="655" stroke="#000" stroke-width="2.1"/>
<line x1="1807.52" y1="46" x2="1807.52" y2="54" stroke="#000" stroke-width="2.1"/>
<line x1="1860.8" y1="663" x2="1860.8" y2="655" stroke="#000" stroke-width="2.1"/>
<line x1="1860.8" y1="46" x2="1860.8" y2="54" stroke="#000" stroke-width="2.1"/>
<line x1="1914.08" y1="663" x2="1914.08" y2="655" stroke="#000" stroke-width="2.1"/>
<line x1="1914.08" y1="46" x2="1914.08" y2="54" stroke="#000" stroke-width="2.1"/>
<line x1="1967.36" y1="663" x2="1967.36" y2="651" stroke="#000" stroke-width="2.1"/>
<line x1="1967.36" y1="46" x2="1967.36" y2="58" stroke="#000" stroke-width="2.1"/>
<line x1="2020.64" y1="663" x2="2020.64" y2="655" stroke="#000" stroke-width="2.1"/>
<line x1="2020.64" y1="46" x2="2020.64" y2="54" stroke="#000" stroke-width="2.1"/>
<line x1="2073.92" y1="663" x2="2073.92" y2="655" stroke="#000" stroke-width="2.1"/>
<line x1="2073.92" y1="46" x2="2073.92" y2="54" stroke="#000" stroke-width="2.1"/>
<line x1="2127.2" y1="663" x2="2127.2" y2="655" stroke="#000" stroke-width="2.1"/>
<line x1="2127.2" y1="46" x2="2127.2" y2="54" stroke="#000" stroke-width="2.1"/>
<line x1="2180.48" y1="663" x2="2180.48" y2="651" stroke="#000" stroke-width="2.1"/>
<line x1="2180.48" y1="46" x2="2180.48" y2="58" stroke="#000" stroke-width="2.1"/>
<line x1="2233.76" y1="663" x2="2233.76" y2="655" stroke="#000" stroke-width="2.1"/>
<line x1="2233.76" y1="46" x2="2233.76" y2="54" stroke="#000" stroke-width="2.1"/>
<line x1="2287.04" y1="663" x2="2287.04" y2="655" stroke="#000" stroke-width="2.1"/>
<line x1="2287.04" y1="46" x2="2287.04" y2="54" stroke="#000" stroke-width="2.1"/>
<line x1="1308" y1="656.7" x2="1316" y2="656.7" stroke="#000" stroke-width="2.1"/>
<line x1="2307" y1="656.7" x2="2299" y2="656.7" stroke="#000" stroke-width="2.1"/>
<line x1="1308" y1="632" x2="1320" y2="632" stroke="#000" stroke-width="2.1"/>
<line x1="2307" y1="632" x2="2295" y2="632" stroke="#000" stroke-width="2.1"/>
<line x1="1308" y1="607.3" x2="1316" y2="607.3" stroke="#000" stroke-width="2.1"/>
<line x1="2307" y1="607.3" x2="2299" y2="607.3" stroke="#000" stroke-width="2.1"/>
<line x1="1308" y1="582.6" x2="1316" y2="582.6" stroke="#000" stroke-width="2.1"/>
<line x1="2307" y1="582.6" x2="2299" y2="582.6" stroke="#000" stroke-width="2.1"/>
<line x1="1308" y1="557.9" x2="1316" y2="557.9" stroke="#000" stroke-width="2.1"/>
<line x1="2307" y1="557.9" x2="2299" y2="557.9" stroke="#000" stroke-width="2.1"/>
<line x1="1308" y1="533.2" x2="1316" y2="533.2" stroke="#000" stroke-width="2.1"/>
<line x1="2307" y1="533.2" x2="2299" y2="533.2" stroke="#000" stroke-width="2.1"/>
<line x1="1308" y1="508.5" x2="1320" y2="508.5" stroke="#000" stroke-width="2.1"/>
<line x1="2307" y1="508.5" x2="2295" y2="508.5" stroke="#000" stroke-width="2.1"/>
<line x1="1308" y1="483.8" x2="1316" y2="483.8" stroke="#000" stroke-width="2.1"/>
<line x1="2307" y1="483.8" x2="2299" y2="483.8" stroke="#000" stroke-width="2.1"/>
<line x1="1308" y1="459.1" x2="1316" y2="459.1" stroke="#000" stroke-width="2.1"/>
<line x1="2307" y1="459.1" x2="2299" y2="459.1" stroke="#000" stroke-width="2.1"/>
<line x1="1308" y1="434.4" x2="1316" y2="434.4" stroke="#000" stroke-width="2.1"/>
<line x1="2307" y1="434.4" x2="2299" y2="434.4" stroke="#000" stroke-width="2.1"/>
<line x1="1308" y1="409.7" x2="1316" y2="409.7" stroke="#000" stroke-width="2.1"/>
<line x1="2307" y1="409.7" x2="2299" y2="409.7" stroke="#000" stroke-width="2.1"/>
<line x1="1308" y1="385" x2="1320" y2="385" stroke="#000" stroke-width="2.1"/>
<line x1="2307" y1="385" x2="2295" y2="385" stroke="#000" stroke-width="2.1"/>
<line x1="1308" y1="360.3" x2="1316" y2="360.3" stroke="#000" stroke-width="2.1"/>
<line x1="2307" y1="360.3" x2="2299" y2="360.3" stroke="#000" stroke-width="2.1"/>
<line x1="1308" y1="335.6" x2="1316" y2="335.6" stroke="#000" stroke-width="2.1"/>
<line x1="2307" y1="335.6" x2="2299" y2="335.6" stroke="#000" stroke-width="2.1"/>
<line x1="1308" y1="310.9" x2="1316" y2="310.9" stroke="#000" stroke-width="2.1"/>
<line x1="2307" y1="310.9" x2="2299" y2="310.9" stroke="#000" stroke-width="2.1"/>
<line x1="1308" y1="286.2" x2="1316" y2="286.2" stroke="#000" stroke-width="2.1"/>
<line x1="2307" y1="286.2" x2="2299" y2="286.2" stroke="#000" stroke-width="2.1"/>
<line x1="1308" y1="261.5" x2="1320" y2="261.5" stroke="#000" stroke-width="2.1"/>
<line x1="2307" y1="261.5" x2="2295" y2="261.5" stroke="#000" stroke-width="2.1"/>
<line x1="1308" y1="236.8" x2="1316" y2="236.8" stroke="#000" stroke-width="2.1"/>
<line x1="2307" y1="236.8" x2="2299" y2="236.8" stroke="#000" stroke-width="2.1"/>
<line x1="1308" y1="212.1" x2="1316" y2="212.1" stroke="#000" stroke-width="2.1"/>
<line x1="2307" y1="212.1" x2="2299" y2="212.1" stroke="#000" stroke-width="2.1"/>
<line x1="1308" y1="187.4" x2="1316" y2="187.4" stroke="#000" stroke-width="2.1"/>
<line x1="2307" y1="187.4" x2="2299" y2="187.4" stroke="#000" stroke-width="2.1"/>
<line x1="1308" y1="162.7" x2="1316" y2="162.7" stroke="#000" stroke-width="2.1"/>
<line x1="2307" y1="162.7" x2="2299" y2="162.7" stroke="#000" stroke-width="2.1"/>
<line x1="1308" y1="138" x2="1320" y2="138" stroke="#000" stroke-width="2.1"/>
<line x1="2307" y1="138" x2="2295" y2="138" stroke="#000" stroke-width="2.1"/>
<line x1="1308" y1="113.3" x2="1316" y2="113.3" stroke="#000" stroke-width="2.1"/>
<line x1="2307" y1="113.3" x2="2299" y2="113.3" stroke="#000" stroke-width="2.1"/>
<line x1="1308" y1="88.6" x2="1316" y2="88.6" stroke="#000" stroke-width="2.1"/>
<line x1="2307" y1="88.6" x2="2299" y2="88.6" stroke="#000" stroke-width="2.1"/>
<line x1="1308" y1="63.9" x2="1316" y2="63.9" stroke="#000" stroke-width="2.1"/>
<line x1="2307" y1="63.9" x2="2299" y2="63.9" stroke="#000" stroke-width="2.1"/>
<text x="1305.5" y="646" font-size="41.5" text-anchor="end">0</text>
<text x="1305.5" y="522.5" font-size="41.5" text-anchor="end">1</text>
<text x="1305.5" y="399" font-size="41.5" text-anchor="end">2</text>
<text x="1305.5" y="275.5" font-size="41.5" text-anchor="end">3</text>
<text x="1305.5" y="152" font-size="41.5" text-anchor="end">4</text>
<text x="1329" y="709.8" font-size="41.5" text-anchor="middle" letter-spacing="-2.6">0</text>
<text x="1542.12" y="709.8" font-size="41.5" text-anchor="middle" letter-spacing="-2.6">20</text>
<text x="1755.24" y="709.8" font-size="41.5" text-anchor="middle" letter-spacing="-2.6">40</text>
<text x="1968.36" y="709.8" font-size="41.5" text-anchor="middle" letter-spacing="-2.6">60</text>
<text x="2181.48" y="709.8" font-size="41.5" text-anchor="middle" letter-spacing="-2.6">80</text>
<text x="1328.4" y="117.8" font-size="74" text-anchor="start">(b)</text>
<text x="1336.3" y="202.9" font-size="68" text-anchor="start">|J<tspan font-size="43.5" dy="13.2">ex</tspan><tspan dy="-13.2">|/R</tspan><tspan font-size="43.5" dy="-28.9">3</tspan></text>
<line x1="1357.9" y1="267.8" x2="1441" y2="267.8" stroke="#5555ff" stroke-width="6"/>
<text x="1456.4" y="281.5" font-size="38.5" text-anchor="start">0 cm<tspan font-size="25" dy="-14.5">-1</tspan><tspan dy="14.5"> </tspan><tspan style="font-weight:200;stroke:#000;stroke-width:0.9px">Å</tspan><tspan font-size="25" dy="-14.5">-3</tspan></text>
<line x1="1357.9" y1="327" x2="1441" y2="327" stroke="#0000ff" stroke-width="6" stroke-dasharray="30 4.3" stroke-dashoffset="0"/>
<text x="1456.4" y="341" font-size="38.5" text-anchor="start">0.25 cm<tspan font-size="25" dy="-14.5">-1</tspan><tspan dy="14.5"> </tspan><tspan style="font-weight:200;stroke:#000;stroke-width:0.9px">Å</tspan><tspan font-size="25" dy="-14.5">-3</tspan></text>
<line x1="1357.9" y1="386" x2="1441" y2="386" stroke="#0000aa" stroke-width="6" stroke-dasharray="10 4.6" stroke-dashoffset="5.4"/>
<text x="1456.4" y="402.1" font-size="38.5" text-anchor="start">1 cm<tspan font-size="25" dy="-14.5">-1</tspan><tspan dy="14.5"> </tspan><tspan style="font-weight:200;stroke:#000;stroke-width:0.9px">Å</tspan><tspan font-size="25" dy="-14.5">-3</tspan></text>
<text x="2097.2" y="596" font-size="64.5" text-anchor="start">J<tspan font-size="40.4" dy="12.4">ex</tspan><tspan dy="-12.4">&lt;0</tspan></text>
<text transform="translate(1214.4,484.5) rotate(-90) scale(1.2,1)" x="0" y="0" font-size="55" text-anchor="start">⟨</text>
<text transform="translate(1206.4,461) rotate(-90)" x="0" y="0" font-size="51" text-anchor="start" style="font-family:'Liberation Serif',serif;font-style:italic;">τ</text>
<text transform="translate(1216.5,440) rotate(-90)" x="0" y="0" font-size="35" text-anchor="start">z</text>
<text transform="translate(1216.15,420.1) rotate(-90) scale(1.2,1)" x="0" y="0" font-size="55" text-anchor="start">⟩</text>
<text transform="translate(1216.1,394) rotate(-90)" x="0" y="0" font-size="50" text-anchor="start">/gμ<tspan font-size="33" dy="10.4">B</tspan><tspan dy="-10.4">R</tspan></text>
<text x="1766.5" y="777.2" font-size="41" text-anchor="start">θ (<tspan font-size="28.7" dy="-21">o</tspan><tspan dy="21">)</tspan></text>
<path d="M193.5,1323.32 L198.26,1323.81 L203.02,1324.31 L207.78,1324.8 L212.54,1325.29 L217.3,1325.78 L222.06,1326.27 L226.82,1326.76 L231.58,1327.25 L236.34,1327.74 L241.1,1328.22 L245.86,1328.71 L250.62,1329.2 L255.38,1329.68 L260.14,1330.16 L264.9,1330.65 L269.66,1331.13 L274.42,1331.61 L279.18,1332.09 L283.94,1332.57 L288.7,1333.05 L293.46,1333.52 L298.22,1334 L302.98,1334.48 L307.74,1334.95 L312.49,1335.43 L317.25,1335.9 L322.01,1336.37 L326.77,1336.84 L331.53,1337.31 L336.29,1337.78 L341.05,1338.25 L345.81,1338.72 L350.57,1339.19 L355.33,1339.65 L360.09,1340.12 L364.85,1340.58 L369.61,1341.05 L374.37,1341.51 L379.13,1341.97 L383.89,1342.43 L388.65,1342.89 L393.41,1343.35 L398.17,1343.81 L402.93,1344.27 L407.69,1344.73 L412.45,1345.18 L417.21,1345.64 L421.97,1346.09 L426.73,1346.54 L431.49,1346.99 L436.25,1347.45 L441.01,1347.9 L445.77,1348.34 L450.53,1348.79 L455.29,1349.24 L460.05,1349.69 L464.81,1350.13 L469.57,1350.58 L474.33,1351.02 L479.09,1351.46 L483.85,1351.9 L488.61,1352.34 L493.37,1352.78 L498.13,1353.22 L502.89,1353.66 L507.65,1354.1 L512.41,1354.53 L517.17,1354.97 L521.93,1355.4 L526.69,1355.84 L531.45,1356.27 L536.21,1356.7 L540.97,1357.14 L545.73,1357.57 L550.48,1358 L555.24,1358.43 L560,1358.86 L564.76,1359.29 L569.52,1359.71 L574.28,1360.14 L579.04,1360.57 L583.8,1360.99 L588.56,1361.42 L593.32,1361.84 L598.08,1362.27 L602.84,1362.69 L607.6,1363.11 L612.36,1363.54 L617.12,1363.96 L621.88,1364.38 L626.64,1364.8 L631.4,1365.22 L636.16,1365.64 L640.92,1366.06 L645.68,1366.48 L650.44,1366.9 L655.2,1367.32 L659.96,1367.74 L664.72,1368.16 L669.48,1368.57 L674.24,1368.99 L679,1369.41 L683.76,1369.83 L688.52,1370.25 L693.28,1370.66 L698.04,1371.08 L702.8,1371.5 L707.56,1371.92 L712.32,1372.34 L717.08,1372.75 L721.84,1373.17 L726.6,1373.59 L731.36,1374.01 L736.12,1374.42 L740.88,1374.84 L745.64,1375.25 L750.4,1375.67 L755.16,1376.08 L759.92,1376.5 L764.68,1376.91 L769.44,1377.32 L774.2,1377.73 L778.96,1378.15 L783.72,1378.56 L788.47,1378.96 L793.23,1379.37 L797.99,1379.78 L802.75,1380.18 L807.51,1380.59 L812.27,1380.99 L817.03,1381.4 L821.79,1381.8 L826.55,1382.2 L831.31,1382.59 L836.07,1382.99 L840.83,1383.39 L845.59,1383.78 L850.35,1384.17 L855.11,1384.56 L859.87,1384.95 L864.63,1385.34 L869.39,1385.73 L874.15,1386.11 L878.91,1386.49 L883.67,1386.87 L888.43,1387.25 L893.19,1387.62 L897.95,1388 L902.71,1388.37 L907.47,1388.74 L912.23,1389.11 L916.99,1389.48 L921.75,1389.84 L926.51,1390.21 L931.27,1390.57 L936.03,1390.94 L940.79,1391.3 L945.55,1391.66 L950.31,1392.02 L955.07,1392.38 L959.83,1392.74 L964.59,1393.09 L969.35,1393.45 L974.11,1393.8 L978.87,1394.16 L983.63,1394.51 L988.39,1394.86 L993.15,1395.21 L997.91,1395.56 L1002.67,1395.9 L1007.43,1396.25 L1012.19,1396.6 L1016.95,1396.94 L1021.71,1397.28 L1026.46,1397.62 L1031.22,1397.96 L1035.98,1398.3 L1040.74,1398.64 L1045.5,1398.98 L1050.26,1399.31 L1055.02,1399.65 L1059.78,1399.98 L1064.54,1400.31 L1069.3,1400.64 L1074.06,1400.97 L1078.82,1401.3 L1083.58,1401.62 L1088.34,1401.95 L1093.1,1402.27 L1097.86,1402.6 L1102.62,1402.92 L1107.38,1403.24 L1112.14,1403.56 L1116.9,1403.87 L1121.66,1404.19 L1126.42,1404.5 L1131.18,1404.82 L1135.94,1405.13 L1140.7,1405.44" fill="none" stroke="#ff5555" stroke-width="9" stroke-linecap="square" stroke-linejoin="miter" stroke-miterlimit="1.5"/>
<path d="M193.5,1168.09 L198.26,1169.18 L203.02,1170.27 L207.78,1171.35 L212.54,1172.42 L217.3,1173.49 L222.06,1174.56 L226.82,1175.62 L231.58,1176.68 L236.34,1177.73 L241.1,1178.77 L245.86,1179.81 L250.62,1180.84 L255.38,1181.87 L260.14,1182.89 L264.9,1183.91 L269.66,1184.92 L274.42,1185.93 L279.18,1186.93 L283.94,1187.92 L288.7,1188.91 L293.46,1189.89 L298.22,1190.86 L302.98,1191.83 L307.74,1192.79 L312.49,1193.75 L317.25,1194.7 L322.01,1195.64 L326.77,1196.58 L331.53,1197.51 L336.29,1198.43 L341.05,1199.35 L345.81,1200.26 L350.57,1201.16 L355.33,1202.06 L360.09,1202.95 L364.85,1203.83 L369.61,1204.71 L374.37,1205.57 L379.13,1206.44 L383.89,1207.29 L388.65,1208.14 L393.41,1208.98 L398.17,1209.81 L402.93,1210.63 L407.69,1211.45 L412.45,1212.26 L417.21,1213.06 L421.97,1213.85 L426.73,1214.64 L431.49,1215.42 L436.25,1216.19 L441.01,1216.95 L445.77,1217.71 L450.53,1218.46 L455.29,1219.2 L460.05,1219.93 L464.81,1220.66 L469.57,1221.38 L474.33,1222.09 L479.09,1222.8 L483.85,1223.5 L488.61,1224.19 L493.37,1224.88 L498.13,1225.56 L502.89,1226.24 L507.65,1226.91 L512.41,1227.58 L517.17,1228.24 L521.93,1228.9 L526.69,1229.55 L531.45,1230.2 L536.21,1230.84 L540.97,1231.48 L545.73,1232.11 L550.48,1232.74 L555.24,1233.37 L560,1233.99 L564.76,1234.61 L569.52,1235.23 L574.28,1235.84 L579.04,1236.45 L583.8,1237.06 L588.56,1237.66 L593.32,1238.26 L598.08,1238.86 L602.84,1239.46 L607.6,1240.05 L612.36,1240.65 L617.12,1241.24 L621.88,1241.83 L626.64,1242.41 L631.4,1243 L636.16,1243.59 L640.92,1244.17 L645.68,1244.75 L650.44,1245.34 L655.2,1245.92 L659.96,1246.5 L664.72,1247.08 L669.48,1247.67 L674.24,1248.25 L679,1248.83 L683.76,1249.41 L688.52,1249.99 L693.28,1250.57 L698.04,1251.15 L702.8,1251.73 L707.56,1252.3 L712.32,1252.88 L717.08,1253.45 L721.84,1254.02 L726.6,1254.59 L731.36,1255.16 L736.12,1255.72 L740.88,1256.29 L745.64,1256.85 L750.4,1257.41 L755.16,1257.97 L759.92,1258.53 L764.68,1259.08 L769.44,1259.64 L774.2,1260.19 L778.96,1260.74 L783.72,1261.29 L788.47,1261.83 L793.23,1262.37 L797.99,1262.92 L802.75,1263.45 L807.51,1263.99 L812.27,1264.53 L817.03,1265.06 L821.79,1265.59 L826.55,1266.12 L831.31,1266.64 L836.07,1267.16 L840.83,1267.68 L845.59,1268.2 L850.35,1268.72 L855.11,1269.23 L859.87,1269.74 L864.63,1270.24 L869.39,1270.75 L874.15,1271.25 L878.91,1271.75 L883.67,1272.24 L888.43,1272.74 L893.19,1273.23 L897.95,1273.71 L902.71,1274.2 L907.47,1274.68 L912.23,1275.15 L916.99,1275.63 L921.75,1276.1 L926.51,1276.57 L931.27,1277.04 L936.03,1277.5 L940.79,1277.97 L945.55,1278.43 L950.31,1278.89 L955.07,1279.35 L959.83,1279.8 L964.59,1280.25 L969.35,1280.7 L974.11,1281.15 L978.87,1281.6 L983.63,1282.04 L988.39,1282.49 L993.15,1282.93 L997.91,1283.36 L1002.67,1283.8 L1007.43,1284.23 L1012.19,1284.66 L1016.95,1285.09 L1021.71,1285.52 L1026.46,1285.94 L1031.22,1286.36 L1035.98,1286.78 L1040.74,1287.2 L1045.5,1287.61 L1050.26,1288.02 L1055.02,1288.43 L1059.78,1288.84 L1064.54,1289.24 L1069.3,1289.64 L1074.06,1290.04 L1078.82,1290.44 L1083.58,1290.83 L1088.34,1291.22 L1093.1,1291.61 L1097.86,1292 L1102.62,1292.38 L1107.38,1292.76 L1112.14,1293.14 L1116.9,1293.51 L1121.66,1293.88 L1126.42,1294.23 L1131.18,1294.57 L1135.94,1294.91 L1140.7,1295.25" fill="none" stroke="#ff0000" stroke-width="9" stroke-linecap="butt" stroke-linejoin="miter" stroke-miterlimit="1.5" stroke-dasharray="22 18.2" stroke-dashoffset="0"/>
<path d="M193.5,1030.87 L198.26,1032.07 L203.02,1033.27 L207.78,1034.46 L212.54,1035.64 L217.3,1036.82 L222.06,1038 L226.82,1039.17 L231.58,1040.33 L236.34,1041.49 L241.1,1042.64 L245.86,1043.79 L250.62,1044.94 L255.38,1046.08 L260.14,1047.21 L264.9,1048.34 L269.66,1049.46 L274.42,1050.58 L279.18,1051.69 L283.94,1052.8 L288.7,1053.9 L293.46,1055 L298.22,1056.08 L302.98,1057.17 L307.74,1058.25 L312.49,1059.32 L317.25,1060.39 L322.01,1061.45 L326.77,1062.5 L331.53,1063.55 L336.29,1064.59 L341.05,1065.63 L345.81,1066.66 L350.57,1067.69 L355.33,1068.71 L360.09,1069.72 L364.85,1070.72 L369.61,1071.72 L374.37,1072.72 L379.13,1073.71 L383.89,1074.69 L388.65,1075.66 L393.41,1076.63 L398.17,1077.59 L402.93,1078.54 L407.69,1079.49 L412.45,1080.43 L417.21,1081.37 L421.97,1082.3 L426.73,1083.22 L431.49,1084.13 L436.25,1085.04 L441.01,1085.94 L445.77,1086.84 L450.53,1087.74 L455.29,1088.63 L460.05,1089.52 L464.81,1090.4 L469.57,1091.28 L474.33,1092.15 L479.09,1093.02 L483.85,1093.89 L488.61,1094.75 L493.37,1095.61 L498.13,1096.46 L502.89,1097.31 L507.65,1098.16 L512.41,1099 L517.17,1099.83 L521.93,1100.66 L526.69,1101.48 L531.45,1102.3 L536.21,1103.12 L540.97,1103.93 L545.73,1104.74 L550.48,1105.54 L555.24,1106.33 L560,1107.12 L564.76,1107.9 L569.52,1108.68 L574.28,1109.46 L579.04,1110.23 L583.8,1110.99 L588.56,1111.75 L593.32,1112.5 L598.08,1113.24 L602.84,1113.98 L607.6,1114.72 L612.36,1115.45 L617.12,1116.17 L621.88,1116.89 L626.64,1117.6 L631.4,1118.3 L636.16,1119 L640.92,1119.69 L645.68,1120.38 L650.44,1121.06 L655.2,1121.73 L659.96,1122.4 L664.72,1123.06 L669.48,1123.72 L674.24,1124.37 L679,1125.01 L683.76,1125.65 L688.52,1126.28 L693.28,1126.91 L698.04,1127.54 L702.8,1128.16 L707.56,1128.77 L712.32,1129.38 L717.08,1129.99 L721.84,1130.59 L726.6,1131.19 L731.36,1131.79 L736.12,1132.37 L740.88,1132.96 L745.64,1133.54 L750.4,1134.12 L755.16,1134.69 L759.92,1135.26 L764.68,1135.83 L769.44,1136.39 L774.2,1136.95 L778.96,1137.51 L783.72,1138.06 L788.47,1138.61 L793.23,1139.15 L797.99,1139.7 L802.75,1140.24 L807.51,1140.77 L812.27,1141.31 L817.03,1141.84 L821.79,1142.37 L826.55,1142.89 L831.31,1143.41 L836.07,1143.93 L840.83,1144.45 L845.59,1144.97 L850.35,1145.48 L855.11,1145.99 L859.87,1146.5 L864.63,1147 L869.39,1147.51 L874.15,1148.01 L878.91,1148.51 L883.67,1149.01 L888.43,1149.51 L893.19,1150 L897.95,1150.49 L902.71,1150.99 L907.47,1151.48 L912.23,1151.97 L916.99,1152.45 L921.75,1152.94 L926.51,1153.42 L931.27,1153.9 L936.03,1154.38 L940.79,1154.86 L945.55,1155.33 L950.31,1155.81 L955.07,1156.28 L959.83,1156.75 L964.59,1157.22 L969.35,1157.68 L974.11,1158.14 L978.87,1158.61 L983.63,1159.07 L988.39,1159.52 L993.15,1159.98 L997.91,1160.43 L1002.67,1160.88 L1007.43,1161.33 L1012.19,1161.78 L1016.95,1162.22 L1021.71,1162.66 L1026.46,1163.1 L1031.22,1163.54 L1035.98,1163.97 L1040.74,1164.41 L1045.5,1164.84 L1050.26,1165.27 L1055.02,1165.69 L1059.78,1166.12 L1064.54,1166.54 L1069.3,1166.96 L1074.06,1167.37 L1078.82,1167.79 L1083.58,1168.2 L1088.34,1168.61 L1093.1,1169.01 L1097.86,1169.42 L1102.62,1169.82 L1107.38,1170.22 L1112.14,1170.61 L1116.9,1171.01 L1121.66,1171.4 L1126.42,1171.79 L1131.18,1172.17 L1135.94,1172.56 L1140.7,1172.94" fill="none" stroke="#aa0000" stroke-width="9" stroke-linecap="butt" stroke-linejoin="miter" stroke-miterlimit="1.5" stroke-dasharray="10.4 9.4" stroke-dashoffset="0"/>
<rect x="153.5" y="811.6" width="1007.5" height="622.9" fill="none" stroke="#000" stroke-width="2.7" stroke-linecap="square"/>
<line x1="193.5" y1="1434.5" x2="193.5" y2="1422.1" stroke="#000" stroke-width="2.8"/>
<line x1="193.5" y1="811.6" x2="193.5" y2="824" stroke="#000" stroke-width="2.8"/>
<line x1="252.7" y1="1434.5" x2="252.7" y2="1427" stroke="#000" stroke-width="2.8"/>
<line x1="252.7" y1="811.6" x2="252.7" y2="819.1" stroke="#000" stroke-width="2.8"/>
<line x1="311.9" y1="1434.5" x2="311.9" y2="1427" stroke="#000" stroke-width="2.8"/>
<line x1="311.9" y1="811.6" x2="311.9" y2="819.1" stroke="#000" stroke-width="2.8"/>
<line x1="371.1" y1="1434.5" x2="371.1" y2="1427" stroke="#000" stroke-width="2.8"/>
<line x1="371.1" y1="811.6" x2="371.1" y2="819.1" stroke="#000" stroke-width="2.8"/>
<line x1="430.3" y1="1434.5" x2="430.3" y2="1422.1" stroke="#000" stroke-width="2.8"/>
<line x1="430.3" y1="811.6" x2="430.3" y2="824" stroke="#000" stroke-width="2.8"/>
<line x1="489.5" y1="1434.5" x2="489.5" y2="1427" stroke="#000" stroke-width="2.8"/>
<line x1="489.5" y1="811.6" x2="489.5" y2="819.1" stroke="#000" stroke-width="2.8"/>
<line x1="548.7" y1="1434.5" x2="548.7" y2="1427" stroke="#000" stroke-width="2.8"/>
<line x1="548.7" y1="811.6" x2="548.7" y2="819.1" stroke="#000" stroke-width="2.8"/>
<line x1="607.9" y1="1434.5" x2="607.9" y2="1427" stroke="#000" stroke-width="2.8"/>
<line x1="607.9" y1="811.6" x2="607.9" y2="819.1" stroke="#000" stroke-width="2.8"/>
<line x1="667.1" y1="1434.5" x2="667.1" y2="1422.1" stroke="#000" stroke-width="2.8"/>
<line x1="667.1" y1="811.6" x2="667.1" y2="824" stroke="#000" stroke-width="2.8"/>
<line x1="726.3" y1="1434.5" x2="726.3" y2="1427" stroke="#000" stroke-width="2.8"/>
<line x1="726.3" y1="811.6" x2="726.3" y2="819.1" stroke="#000" stroke-width="2.8"/>
<line x1="785.5" y1="1434.5" x2="785.5" y2="1427" stroke="#000" stroke-width="2.8"/>
<line x1="785.5" y1="811.6" x2="785.5" y2="819.1" stroke="#000" stroke-width="2.8"/>
<line x1="844.7" y1="1434.5" x2="844.7" y2="1427" stroke="#000" stroke-width="2.8"/>
<line x1="844.7" y1="811.6" x2="844.7" y2="819.1" stroke="#000" stroke-width="2.8"/>
<line x1="903.9" y1="1434.5" x2="903.9" y2="1422.1" stroke="#000" stroke-width="2.8"/>
<line x1="903.9" y1="811.6" x2="903.9" y2="824" stroke="#000" stroke-width="2.8"/>
<line x1="963.1" y1="1434.5" x2="963.1" y2="1427" stroke="#000" stroke-width="2.8"/>
<line x1="963.1" y1="811.6" x2="963.1" y2="819.1" stroke="#000" stroke-width="2.8"/>
<line x1="1022.3" y1="1434.5" x2="1022.3" y2="1427" stroke="#000" stroke-width="2.8"/>
<line x1="1022.3" y1="811.6" x2="1022.3" y2="819.1" stroke="#000" stroke-width="2.8"/>
<line x1="1081.5" y1="1434.5" x2="1081.5" y2="1427" stroke="#000" stroke-width="2.8"/>
<line x1="1081.5" y1="811.6" x2="1081.5" y2="819.1" stroke="#000" stroke-width="2.8"/>
<line x1="1140.7" y1="1434.5" x2="1140.7" y2="1422.1" stroke="#000" stroke-width="2.8"/>
<line x1="1140.7" y1="811.6" x2="1140.7" y2="824" stroke="#000" stroke-width="2.8"/>
<line x1="153.5" y1="1434.2" x2="161" y2="1434.2" stroke="#000" stroke-width="2.8"/>
<line x1="1161" y1="1434.2" x2="1153.5" y2="1434.2" stroke="#000" stroke-width="2.8"/>
<line x1="153.5" y1="1399.55" x2="161" y2="1399.55" stroke="#000" stroke-width="2.8"/>
<line x1="1161" y1="1399.55" x2="1153.5" y2="1399.55" stroke="#000" stroke-width="2.8"/>
<line x1="153.5" y1="1364.9" x2="161" y2="1364.9" stroke="#000" stroke-width="2.8"/>
<line x1="1161" y1="1364.9" x2="1153.5" y2="1364.9" stroke="#000" stroke-width="2.8"/>
<line x1="153.5" y1="1330.25" x2="165.9" y2="1330.25" stroke="#000" stroke-width="2.8"/>
<line x1="1161" y1="1330.25" x2="1148.6" y2="1330.25" stroke="#000" stroke-width="2.8"/>
<line x1="153.5" y1="1295.6" x2="161" y2="1295.6" stroke="#000" stroke-width="2.8"/>
<line x1="1161" y1="1295.6" x2="1153.5" y2="1295.6" stroke="#000" stroke-width="2.8"/>
<line x1="153.5" y1="1260.95" x2="161" y2="1260.95" stroke="#000" stroke-width="2.8"/>
<line x1="1161" y1="1260.95" x2="1153.5" y2="1260.95" stroke="#000" stroke-width="2.8"/>
<line x1="153.5" y1="1226.3" x2="161" y2="1226.3" stroke="#000" stroke-width="2.8"/>
<line x1="1161" y1="1226.3" x2="1153.5" y2="1226.3" stroke="#000" stroke-width="2.8"/>
<line x1="153.5" y1="1191.65" x2="161" y2="1191.65" stroke="#000" stroke-width="2.8"/>
<line x1="1161" y1="1191.65" x2="1153.5" y2="1191.65" stroke="#000" stroke-width="2.8"/>
<line x1="153.5" y1="1157" x2="165.9" y2="1157" stroke="#000" stroke-width="2.8"/>
<line x1="1161" y1="1157" x2="1148.6" y2="1157" stroke="#000" stroke-width="2.8"/>
<line x1="153.5" y1="1122.35" x2="161" y2="1122.35" stroke="#000" stroke-width="2.8"/>
<line x1="1161" y1="1122.35" x2="1153.5" y2="1122.35" stroke="#000" stroke-width="2.8"/>
<line x1="153.5" y1="1087.7" x2="161" y2="1087.7" stroke="#000" stroke-width="2.8"/>
<line x1="1161" y1="1087.7" x2="1153.5" y2="1087.7" stroke="#000" stroke-width="2.8"/>
<line x1="153.5" y1="1053.05" x2="161" y2="1053.05" stroke="#000" stroke-width="2.8"/>
<line x1="1161" y1="1053.05" x2="1153.5" y2="1053.05" stroke="#000" stroke-width="2.8"/>
<line x1="153.5" y1="1018.4" x2="161" y2="1018.4" stroke="#000" stroke-width="2.8"/>
<line x1="1161" y1="1018.4" x2="1153.5" y2="1018.4" stroke="#000" stroke-width="2.8"/>
<line x1="153.5" y1="983.75" x2="165.9" y2="983.75" stroke="#000" stroke-width="2.8"/>
<line x1="1161" y1="983.75" x2="1148.6" y2="983.75" stroke="#000" stroke-width="2.8"/>
<line x1="153.5" y1="949.1" x2="161" y2="949.1" stroke="#000" stroke-width="2.8"/>
<line x1="1161" y1="949.1" x2="1153.5" y2="949.1" stroke="#000" stroke-width="2.8"/>
<line x1="153.5" y1="914.45" x2="161" y2="914.45" stroke="#000" stroke-width="2.8"/>
<line x1="1161" y1="914.45" x2="1153.5" y2="914.45" stroke="#000" stroke-width="2.8"/>
<line x1="153.5" y1="879.8" x2="161" y2="879.8" stroke="#000" stroke-width="2.8"/>
<line x1="1161" y1="879.8" x2="1153.5" y2="879.8" stroke="#000" stroke-width="2.8"/>
<line x1="153.5" y1="845.15" x2="161" y2="845.15" stroke="#000" stroke-width="2.8"/>
<line x1="1161" y1="845.15" x2="1153.5" y2="845.15" stroke="#000" stroke-width="2.8"/>
<line x1="153.5" y1="810.5" x2="165.9" y2="810.5" stroke="#000" stroke-width="2.8"/>
<line x1="1161" y1="810.5" x2="1148.6" y2="810.5" stroke="#000" stroke-width="2.8"/>
<text x="149" y="829.5" font-size="55" text-anchor="end">10</text>
<text x="149" y="1002.75" font-size="55" text-anchor="end">5</text>
<text x="149" y="1176" font-size="55" text-anchor="end">0</text>
<text x="149" y="1349.25" font-size="55" text-anchor="end">5</text>
<text x="78.3" y="1349.25" font-size="55" text-anchor="start">-</text>
<text x="196.5" y="1496" font-size="55" text-anchor="middle">2</text>
<text x="433.3" y="1496" font-size="55" text-anchor="middle">4</text>
<text x="670.1" y="1496" font-size="55" text-anchor="middle">6</text>
<text x="906.9" y="1496" font-size="55" text-anchor="middle">8</text>
<text x="1143.7" y="1496" font-size="55" text-anchor="middle">10</text>
<text x="173.4" y="892" font-size="74" text-anchor="start">(c)</text>
<text x="826.4" y="897" font-size="60" text-anchor="start">|J<tspan font-size="38.3" dy="11.2">ex</tspan><tspan dy="-11.2">|/R</tspan><tspan font-size="38.3" dy="-24.5">3</tspan></text>
<line x1="845" y1="954.4" x2="918" y2="954.4" stroke="#ff5555" stroke-width="4.8"/>
<text x="930.7" y="965.6" font-size="33" text-anchor="start">0 cm<tspan font-size="22" dy="-13.4">-1</tspan><tspan dy="13.4"> </tspan><tspan style="font-weight:200;stroke:#000;stroke-width:0.9px">Å</tspan><tspan font-size="22" dy="-13.4">-3</tspan></text>
<line x1="845" y1="1006" x2="918" y2="1006" stroke="#ff0000" stroke-width="4.8" stroke-dasharray="27 3"/>
<text x="930.7" y="1017.6" font-size="33" text-anchor="start">0.25 cm<tspan font-size="22" dy="-13.4">-1</tspan><tspan dy="13.4"> </tspan><tspan style="font-weight:200;stroke:#000;stroke-width:0.9px">Å</tspan><tspan font-size="22" dy="-13.4">-3</tspan></text>
<line x1="845" y1="1057" x2="918" y2="1057" stroke="#aa0000" stroke-width="4.8" stroke-dasharray="10 7.2"/>
<text x="930.7" y="1071.1" font-size="33" text-anchor="start">1 cm<tspan font-size="22" dy="-13.4">-1</tspan><tspan dy="13.4"> </tspan><tspan style="font-weight:200;stroke:#000;stroke-width:0.9px">Å</tspan><tspan font-size="22" dy="-13.4">-3</tspan></text>
<text x="613.3" y="931.9" font-size="64" text-anchor="start">J<tspan font-size="40" dy="12.4">ex</tspan><tspan dy="-12.4">&gt;0</tspan></text>
<text x="601.2" y="1020" font-size="67" text-anchor="start">θ=20°</text>
<text transform="translate(82.2,1308.1) rotate(-90)" x="0" y="0" font-size="52" text-anchor="start">Log</text>
<text transform="translate(92,1214.5) rotate(-90)" x="0" y="0" font-size="33" text-anchor="start">10</text>
<text transform="translate(83.9,1159.5) rotate(-90)" x="0" y="0" font-size="50" text-anchor="start">Γ</text>
<text transform="translate(93.9,1132.4) rotate(-90)" x="0" y="0" font-size="33" text-anchor="start" style="letter-spacing:-2.2px;">τ→-τ</text>
<text transform="translate(86.3,1040) rotate(-90)" x="0" y="0" font-size="58.5" text-anchor="start">(s</text>
<text transform="translate(62.5,986.5) rotate(-90)" x="0" y="0" font-size="37" text-anchor="start">-1</text>
<text transform="translate(86.3,948.8) rotate(-90)" x="0" y="0" font-size="58.5" text-anchor="start">)</text>
<text x="561.3" y="1556.9" font-size="57.4" text-anchor="start">D/|J<tspan font-size="36" dy="10.6">ex</tspan><tspan dy="-10.6">|</tspan></text>
<path d="M1357,1099.41 L1361.72,1101.74 L1366.44,1104.07 L1371.16,1106.37 L1375.88,1108.66 L1380.6,1110.93 L1385.32,1113.18 L1390.04,1115.42 L1394.76,1117.64 L1399.48,1119.84 L1404.2,1122.02 L1408.92,1124.18 L1413.64,1126.32 L1418.35,1128.45 L1423.07,1130.55 L1427.79,1132.63 L1432.51,1134.7 L1437.23,1136.74 L1441.95,1138.76 L1446.67,1140.77 L1451.39,1142.75 L1456.11,1144.71 L1460.83,1146.64 L1465.55,1148.56 L1470.27,1150.45 L1474.99,1152.32 L1479.71,1154.17 L1484.43,1156.01 L1489.15,1157.82 L1493.87,1159.61 L1498.59,1161.39 L1503.31,1163.15 L1508.03,1164.9 L1512.75,1166.63 L1517.47,1168.34 L1522.19,1170.03 L1526.91,1171.71 L1531.63,1173.38 L1536.34,1175.03 L1541.06,1176.67 L1545.78,1178.29 L1550.5,1179.89 L1555.22,1181.49 L1559.94,1183.07 L1564.66,1184.64 L1569.38,1186.19 L1574.1,1187.73 L1578.82,1189.27 L1583.54,1190.78 L1588.26,1192.29 L1592.98,1193.79 L1597.7,1195.27 L1602.42,1196.75 L1607.14,1198.21 L1611.86,1199.66 L1616.58,1201.09 L1621.3,1202.52 L1626.02,1203.93 L1630.74,1205.34 L1635.46,1206.73 L1640.18,1208.11 L1644.9,1209.48 L1649.62,1210.84 L1654.33,1212.19 L1659.05,1213.53 L1663.77,1214.86 L1668.49,1216.18 L1673.21,1217.49 L1677.93,1218.79 L1682.65,1220.09 L1687.37,1221.37 L1692.09,1222.64 L1696.81,1223.91 L1701.53,1225.16 L1706.25,1226.41 L1710.97,1227.65 L1715.69,1228.88 L1720.41,1230.1 L1725.13,1231.32 L1729.85,1232.52 L1734.57,1233.72 L1739.29,1234.9 L1744.01,1236.08 L1748.73,1237.25 L1753.45,1238.42 L1758.17,1239.57 L1762.89,1240.72 L1767.61,1241.86 L1772.32,1242.99 L1777.04,1244.12 L1781.76,1245.23 L1786.48,1246.34 L1791.2,1247.45 L1795.92,1248.54 L1800.64,1249.63 L1805.36,1250.72 L1810.08,1251.79 L1814.8,1252.86 L1819.52,1253.92 L1824.24,1254.98 L1828.96,1256.03 L1833.68,1257.08 L1838.4,1258.11 L1843.12,1259.14 L1847.84,1260.17 L1852.56,1261.18 L1857.28,1262.19 L1862,1263.2 L1866.72,1264.19 L1871.44,1265.19 L1876.16,1266.17 L1880.88,1267.15 L1885.59,1268.13 L1890.31,1269.1 L1895.03,1270.06 L1899.75,1271.02 L1904.47,1271.97 L1909.19,1272.92 L1913.91,1273.86 L1918.63,1274.8 L1923.35,1275.74 L1928.07,1276.66 L1932.79,1277.59 L1937.51,1278.51 L1942.23,1279.43 L1946.95,1280.34 L1951.67,1281.24 L1956.39,1282.15 L1961.11,1283.04 L1965.83,1283.93 L1970.55,1284.82 L1975.27,1285.7 L1979.99,1286.58 L1984.71,1287.45 L1989.43,1288.32 L1994.15,1289.18 L1998.87,1290.04 L2003.58,1290.9 L2008.3,1291.75 L2013.02,1292.6 L2017.74,1293.44 L2022.46,1294.29 L2027.18,1295.12 L2031.9,1295.96 L2036.62,1296.79 L2041.34,1297.61 L2046.06,1298.44 L2050.78,1299.26 L2055.5,1300.08 L2060.22,1300.9 L2064.94,1301.71 L2069.66,1302.52 L2074.38,1303.33 L2079.1,1304.13 L2083.82,1304.93 L2088.54,1305.73 L2093.26,1306.53 L2097.98,1307.32 L2102.7,1308.11 L2107.42,1308.9 L2112.14,1309.68 L2116.86,1310.46 L2121.57,1311.24 L2126.29,1312.01 L2131.01,1312.78 L2135.73,1313.55 L2140.45,1314.31 L2145.17,1315.07 L2149.89,1315.82 L2154.61,1316.58 L2159.33,1317.33 L2164.05,1318.07 L2168.77,1318.81 L2173.49,1319.55 L2178.21,1320.28 L2182.93,1321.01 L2187.65,1321.74 L2192.37,1322.46 L2197.09,1323.19 L2201.81,1323.9 L2206.53,1324.62 L2211.25,1325.33 L2215.97,1326.04 L2220.69,1326.74 L2225.41,1327.45 L2230.13,1328.15 L2234.85,1328.84 L2239.56,1329.54 L2244.28,1330.23 L2249,1330.91 L2253.72,1331.6 L2258.44,1332.28 L2263.16,1332.95 L2267.88,1333.63 L2272.6,1334.3 L2277.32,1334.96 L2282.04,1335.62 L2286.76,1336.28 L2291.48,1336.94 L2296.2,1337.59" fill="none" stroke="#5555ff" stroke-width="9" stroke-linecap="square" stroke-linejoin="miter" stroke-miterlimit="1.5"/>
<path d="M1357,1121.97 L1361.72,1124.25 L1366.44,1126.51 L1371.16,1128.76 L1375.88,1130.99 L1380.6,1133.2 L1385.32,1135.39 L1390.04,1137.56 L1394.76,1139.72 L1399.48,1141.85 L1404.2,1143.96 L1408.92,1146.06 L1413.64,1148.13 L1418.35,1150.19 L1423.07,1152.22 L1427.79,1154.23 L1432.51,1156.23 L1437.23,1158.2 L1441.95,1160.14 L1446.67,1162.07 L1451.39,1163.97 L1456.11,1165.86 L1460.83,1167.71 L1465.55,1169.55 L1470.27,1171.36 L1474.99,1173.15 L1479.71,1174.92 L1484.43,1176.66 L1489.15,1178.38 L1493.87,1180.09 L1498.59,1181.77 L1503.31,1183.43 L1508.03,1185.08 L1512.75,1186.71 L1517.47,1188.32 L1522.19,1189.91 L1526.91,1191.49 L1531.63,1193.05 L1536.34,1194.6 L1541.06,1196.14 L1545.78,1197.66 L1550.5,1199.16 L1555.22,1200.66 L1559.94,1202.14 L1564.66,1203.62 L1569.38,1205.08 L1574.1,1206.53 L1578.82,1207.98 L1583.54,1209.41 L1588.26,1210.84 L1592.98,1212.26 L1597.7,1213.67 L1602.42,1215.07 L1607.14,1216.46 L1611.86,1217.84 L1616.58,1219.21 L1621.3,1220.57 L1626.02,1221.91 L1630.74,1223.25 L1635.46,1224.58 L1640.18,1225.9 L1644.9,1227.21 L1649.62,1228.51 L1654.33,1229.8 L1659.05,1231.08 L1663.77,1232.35 L1668.49,1233.61 L1673.21,1234.86 L1677.93,1236.1 L1682.65,1237.33 L1687.37,1238.56 L1692.09,1239.77 L1696.81,1240.97 L1701.53,1242.17 L1706.25,1243.35 L1710.97,1244.53 L1715.69,1245.69 L1720.41,1246.85 L1725.13,1247.99 L1729.85,1249.13 L1734.57,1250.26 L1739.29,1251.38 L1744.01,1252.49 L1748.73,1253.6 L1753.45,1254.7 L1758.17,1255.78 L1762.89,1256.87 L1767.61,1257.94 L1772.32,1259.01 L1777.04,1260.07 L1781.76,1261.13 L1786.48,1262.18 L1791.2,1263.22 L1795.92,1264.26 L1800.64,1265.3 L1805.36,1266.33 L1810.08,1267.35 L1814.8,1268.37 L1819.52,1269.39 L1824.24,1270.4 L1828.96,1271.41 L1833.68,1272.41 L1838.4,1273.41 L1843.12,1274.4 L1847.84,1275.39 L1852.56,1276.38 L1857.28,1277.36 L1862,1278.33 L1866.72,1279.3 L1871.44,1280.26 L1876.16,1281.22 L1880.88,1282.18 L1885.59,1283.12 L1890.31,1284.07 L1895.03,1285 L1899.75,1285.93 L1904.47,1286.86 L1909.19,1287.78 L1913.91,1288.69 L1918.63,1289.6 L1923.35,1290.5 L1928.07,1291.39 L1932.79,1292.28 L1937.51,1293.16 L1942.23,1294.03 L1946.95,1294.9 L1951.67,1295.77 L1956.39,1296.64 L1961.11,1297.5 L1965.83,1298.35 L1970.55,1299.21 L1975.27,1300.06 L1979.99,1300.9 L1984.71,1301.75 L1989.43,1302.59 L1994.15,1303.42 L1998.87,1304.26 L2003.58,1305.09 L2008.3,1305.91 L2013.02,1306.74 L2017.74,1307.56 L2022.46,1308.37 L2027.18,1309.19 L2031.9,1310 L2036.62,1310.81 L2041.34,1311.61 L2046.06,1312.42 L2050.78,1313.22 L2055.5,1314.01 L2060.22,1314.81 L2064.94,1315.6 L2069.66,1316.39 L2074.38,1317.17 L2079.1,1317.95 L2083.82,1318.74 L2088.54,1319.51 L2093.26,1320.29 L2097.98,1321.06 L2102.7,1321.83 L2107.42,1322.6 L2112.14,1323.36 L2116.86,1324.13 L2121.57,1324.89 L2126.29,1325.64 L2131.01,1326.4 L2135.73,1327.15 L2140.45,1327.9 L2145.17,1328.65 L2149.89,1329.4 L2154.61,1330.14 L2159.33,1330.89 L2164.05,1331.63 L2168.77,1332.36 L2173.49,1333.1 L2178.21,1333.83 L2182.93,1334.56 L2187.65,1335.29 L2192.37,1336.01 L2197.09,1336.73 L2201.81,1337.44 L2206.53,1338.15 L2211.25,1338.86 L2215.97,1339.57 L2220.69,1340.27 L2225.41,1340.96 L2230.13,1341.66 L2234.85,1342.35 L2239.56,1343.03 L2244.28,1343.72 L2249,1344.4 L2253.72,1345.08 L2258.44,1345.75 L2263.16,1346.43 L2267.88,1347.1 L2272.6,1347.76 L2277.32,1348.43 L2282.04,1349.09 L2286.76,1349.75 L2291.48,1350.41 L2296.2,1351.06" fill="none" stroke="#0000ff" stroke-width="9" stroke-linecap="butt" stroke-linejoin="miter" stroke-miterlimit="1.5" stroke-dasharray="22 18" stroke-dashoffset="0"/>
<path d="M1357,1185.71 L1361.72,1187.51 L1366.44,1189.31 L1371.16,1191.1 L1375.88,1192.88 L1380.6,1194.65 L1385.32,1196.42 L1390.04,1198.17 L1394.76,1199.92 L1399.48,1201.66 L1404.2,1203.39 L1408.92,1205.11 L1413.64,1206.82 L1418.35,1208.52 L1423.07,1210.21 L1427.79,1211.9 L1432.51,1213.57 L1437.23,1215.23 L1441.95,1216.89 L1446.67,1218.53 L1451.39,1220.17 L1456.11,1221.79 L1460.83,1223.41 L1465.55,1225.01 L1470.27,1226.61 L1474.99,1228.19 L1479.71,1229.76 L1484.43,1231.33 L1489.15,1232.88 L1493.87,1234.42 L1498.59,1235.95 L1503.31,1237.47 L1508.03,1238.98 L1512.75,1240.47 L1517.47,1241.96 L1522.19,1243.43 L1526.91,1244.89 L1531.63,1246.34 L1536.34,1247.78 L1541.06,1249.21 L1545.78,1250.62 L1550.5,1252.03 L1555.22,1253.42 L1559.94,1254.8 L1564.66,1256.16 L1569.38,1257.52 L1574.1,1258.86 L1578.82,1260.18 L1583.54,1261.5 L1588.26,1262.8 L1592.98,1264.09 L1597.7,1265.37 L1602.42,1266.65 L1607.14,1267.91 L1611.86,1269.17 L1616.58,1270.41 L1621.3,1271.65 L1626.02,1272.88 L1630.74,1274.1 L1635.46,1275.31 L1640.18,1276.52 L1644.9,1277.71 L1649.62,1278.9 L1654.33,1280.08 L1659.05,1281.25 L1663.77,1282.41 L1668.49,1283.57 L1673.21,1284.71 L1677.93,1285.85 L1682.65,1286.98 L1687.37,1288.11 L1692.09,1289.22 L1696.81,1290.33 L1701.53,1291.43 L1706.25,1292.53 L1710.97,1293.61 L1715.69,1294.69 L1720.41,1295.77 L1725.13,1296.83 L1729.85,1297.89 L1734.57,1298.94 L1739.29,1299.99 L1744.01,1301.02 L1748.73,1302.05 L1753.45,1303.08 L1758.17,1304.1 L1762.89,1305.11 L1767.61,1306.11 L1772.32,1307.11 L1777.04,1308.1 L1781.76,1309.09 L1786.48,1310.07 L1791.2,1311.05 L1795.92,1312.01 L1800.64,1312.98 L1805.36,1313.93 L1810.08,1314.88 L1814.8,1315.83 L1819.52,1316.77 L1824.24,1317.7 L1828.96,1318.63 L1833.68,1319.55 L1838.4,1320.47 L1843.12,1321.38 L1847.84,1322.28 L1852.56,1323.18 L1857.28,1324.07 L1862,1324.96 L1866.72,1325.84 L1871.44,1326.71 L1876.16,1327.58 L1880.88,1328.44 L1885.59,1329.3 L1890.31,1330.16 L1895.03,1331.01 L1899.75,1331.85 L1904.47,1332.69 L1909.19,1333.52 L1913.91,1334.35 L1918.63,1335.18 L1923.35,1336 L1928.07,1336.82 L1932.79,1337.63 L1937.51,1338.44 L1942.23,1339.24 L1946.95,1340.04 L1951.67,1340.84 L1956.39,1341.63 L1961.11,1342.42 L1965.83,1343.2 L1970.55,1343.98 L1975.27,1344.76 L1979.99,1345.53 L1984.71,1346.3 L1989.43,1347.07 L1994.15,1347.83 L1998.87,1348.6 L2003.58,1349.35 L2008.3,1350.11 L2013.02,1350.86 L2017.74,1351.61 L2022.46,1352.36 L2027.18,1353.11 L2031.9,1353.85 L2036.62,1354.59 L2041.34,1355.33 L2046.06,1356.06 L2050.78,1356.8 L2055.5,1357.53 L2060.22,1358.26 L2064.94,1358.99 L2069.66,1359.71 L2074.38,1360.43 L2079.1,1361.15 L2083.82,1361.87 L2088.54,1362.59 L2093.26,1363.3 L2097.98,1364.01 L2102.7,1364.72 L2107.42,1365.42 L2112.14,1366.13 L2116.86,1366.83 L2121.57,1367.52 L2126.29,1368.22 L2131.01,1368.91 L2135.73,1369.6 L2140.45,1370.29 L2145.17,1370.97 L2149.89,1371.65 L2154.61,1372.33 L2159.33,1373.01 L2164.05,1373.68 L2168.77,1374.35 L2173.49,1375.02 L2178.21,1375.68 L2182.93,1376.34 L2187.65,1377 L2192.37,1377.66 L2197.09,1378.31 L2201.81,1378.96 L2206.53,1379.6 L2211.25,1380.25 L2215.97,1380.89 L2220.69,1381.53 L2225.41,1382.16 L2230.13,1382.79 L2234.85,1383.42 L2239.56,1384.05 L2244.28,1384.67 L2249,1385.29 L2253.72,1385.91 L2258.44,1386.52 L2263.16,1387.13 L2267.88,1387.73 L2272.6,1388.34 L2277.32,1388.94 L2282.04,1389.54 L2286.76,1390.13 L2291.48,1390.72 L2296.2,1391.31" fill="none" stroke="#0000aa" stroke-width="9" stroke-linecap="butt" stroke-linejoin="miter" stroke-miterlimit="1.5" stroke-dasharray="11 9" stroke-dashoffset="0"/>
<rect x="1317" y="811" width="999" height="616.8" fill="none" stroke="#000" stroke-width="1.9" stroke-linecap="square"/>
<line x1="1357" y1="1427.8" x2="1357" y2="1414.8" stroke="#000" stroke-width="2"/>
<line x1="1357" y1="811" x2="1357" y2="824" stroke="#000" stroke-width="2"/>
<line x1="1415.7" y1="1427.8" x2="1415.7" y2="1419.8" stroke="#000" stroke-width="2"/>
<line x1="1415.7" y1="811" x2="1415.7" y2="819" stroke="#000" stroke-width="2"/>
<line x1="1474.4" y1="1427.8" x2="1474.4" y2="1419.8" stroke="#000" stroke-width="2"/>
<line x1="1474.4" y1="811" x2="1474.4" y2="819" stroke="#000" stroke-width="2"/>
<line x1="1533.1" y1="1427.8" x2="1533.1" y2="1419.8" stroke="#000" stroke-width="2"/>
<line x1="1533.1" y1="811" x2="1533.1" y2="819" stroke="#000" stroke-width="2"/>
<line x1="1591.8" y1="1427.8" x2="1591.8" y2="1414.8" stroke="#000" stroke-width="2"/>
<line x1="1591.8" y1="811" x2="1591.8" y2="824" stroke="#000" stroke-width="2"/>
<line x1="1650.5" y1="1427.8" x2="1650.5" y2="1419.8" stroke="#000" stroke-width="2"/>
<line x1="1650.5" y1="811" x2="1650.5" y2="819" stroke="#000" stroke-width="2"/>
<line x1="1709.2" y1="1427.8" x2="1709.2" y2="1419.8" stroke="#000" stroke-width="2"/>
<line x1="1709.2" y1="811" x2="1709.2" y2="819" stroke="#000" stroke-width="2"/>
<line x1="1767.9" y1="1427.8" x2="1767.9" y2="1419.8" stroke="#000" stroke-width="2"/>
<line x1="1767.9" y1="811" x2="1767.9" y2="819" stroke="#000" stroke-width="2"/>
<line x1="1826.6" y1="1427.8" x2="1826.6" y2="1414.8" stroke="#000" stroke-width="2"/>
<line x1="1826.6" y1="811" x2="1826.6" y2="824" stroke="#000" stroke-width="2"/>
<line x1="1885.3" y1="1427.8" x2="1885.3" y2="1419.8" stroke="#000" stroke-width="2"/>
<line x1="1885.3" y1="811" x2="1885.3" y2="819" stroke="#000" stroke-width="2"/>
<line x1="1944" y1="1427.8" x2="1944" y2="1419.8" stroke="#000" stroke-width="2"/>
<line x1="1944" y1="811" x2="1944" y2="819" stroke="#000" stroke-width="2"/>
<line x1="2002.7" y1="1427.8" x2="2002.7" y2="1419.8" stroke="#000" stroke-width="2"/>
<line x1="2002.7" y1="811" x2="2002.7" y2="819" stroke="#000" stroke-width="2"/>
<line x1="2061.4" y1="1427.8" x2="2061.4" y2="1414.8" stroke="#000" stroke-width="2"/>
<line x1="2061.4" y1="811" x2="2061.4" y2="824" stroke="#000" stroke-width="2"/>
<line x1="2120.1" y1="1427.8" x2="2120.1" y2="1419.8" stroke="#000" stroke-width="2"/>
<line x1="2120.1" y1="811" x2="2120.1" y2="819" stroke="#000" stroke-width="2"/>
<line x1="2178.8" y1="1427.8" x2="2178.8" y2="1419.8" stroke="#000" stroke-width="2"/>
<line x1="2178.8" y1="811" x2="2178.8" y2="819" stroke="#000" stroke-width="2"/>
<line x1="2237.5" y1="1427.8" x2="2237.5" y2="1419.8" stroke="#000" stroke-width="2"/>
<line x1="2237.5" y1="811" x2="2237.5" y2="819" stroke="#000" stroke-width="2"/>
<line x1="2296.2" y1="1427.8" x2="2296.2" y2="1414.8" stroke="#000" stroke-width="2"/>
<line x1="2296.2" y1="811" x2="2296.2" y2="824" stroke="#000" stroke-width="2"/>
<line x1="1317" y1="1427.8" x2="1330" y2="1427.8" stroke="#000" stroke-width="2"/>
<line x1="2316" y1="1427.8" x2="2303" y2="1427.8" stroke="#000" stroke-width="2"/>
<line x1="1317" y1="1402.1" x2="1325" y2="1402.1" stroke="#000" stroke-width="2"/>
<line x1="2316" y1="1402.1" x2="2308" y2="1402.1" stroke="#000" stroke-width="2"/>
<line x1="1317" y1="1376.4" x2="1325" y2="1376.4" stroke="#000" stroke-width="2"/>
<line x1="2316" y1="1376.4" x2="2308" y2="1376.4" stroke="#000" stroke-width="2"/>
<line x1="1317" y1="1350.7" x2="1325" y2="1350.7" stroke="#000" stroke-width="2"/>
<line x1="2316" y1="1350.7" x2="2308" y2="1350.7" stroke="#000" stroke-width="2"/>
<line x1="1317" y1="1325" x2="1330" y2="1325" stroke="#000" stroke-width="2"/>
<line x1="2316" y1="1325" x2="2303" y2="1325" stroke="#000" stroke-width="2"/>
<line x1="1317" y1="1299.3" x2="1325" y2="1299.3" stroke="#000" stroke-width="2"/>
<line x1="2316" y1="1299.3" x2="2308" y2="1299.3" stroke="#000" stroke-width="2"/>
<line x1="1317" y1="1273.6" x2="1325" y2="1273.6" stroke="#000" stroke-width="2"/>
<line x1="2316" y1="1273.6" x2="2308" y2="1273.6" stroke="#000" stroke-width="2"/>
<line x1="1317" y1="1247.9" x2="1325" y2="1247.9" stroke="#000" stroke-width="2"/>
<line x1="2316" y1="1247.9" x2="2308" y2="1247.9" stroke="#000" stroke-width="2"/>
<line x1="1317" y1="1222.2" x2="1330" y2="1222.2" stroke="#000" stroke-width="2"/>
<line x1="2316" y1="1222.2" x2="2303" y2="1222.2" stroke="#000" stroke-width="2"/>
<line x1="1317" y1="1196.5" x2="1325" y2="1196.5" stroke="#000" stroke-width="2"/>
<line x1="2316" y1="1196.5" x2="2308" y2="1196.5" stroke="#000" stroke-width="2"/>
<line x1="1317" y1="1170.8" x2="1325" y2="1170.8" stroke="#000" stroke-width="2"/>
<line x1="2316" y1="1170.8" x2="2308" y2="1170.8" stroke="#000" stroke-width="2"/>
<line x1="1317" y1="1145.1" x2="1325" y2="1145.1" stroke="#000" stroke-width="2"/>
<line x1="2316" y1="1145.1" x2="2308" y2="1145.1" stroke="#000" stroke-width="2"/>
<line x1="1317" y1="1119.4" x2="1330" y2="1119.4" stroke="#000" stroke-width="2"/>
<line x1="2316" y1="1119.4" x2="2303" y2="1119.4" stroke="#000" stroke-width="2"/>
<line x1="1317" y1="1093.7" x2="1325" y2="1093.7" stroke="#000" stroke-width="2"/>
<line x1="2316" y1="1093.7" x2="2308" y2="1093.7" stroke="#000" stroke-width="2"/>
<line x1="1317" y1="1068" x2="1325" y2="1068" stroke="#000" stroke-width="2"/>
<line x1="2316" y1="1068" x2="2308" y2="1068" stroke="#000" stroke-width="2"/>
<line x1="1317" y1="1042.3" x2="1325" y2="1042.3" stroke="#000" stroke-width="2"/>
<line x1="2316" y1="1042.3" x2="2308" y2="1042.3" stroke="#000" stroke-width="2"/>
<line x1="1317" y1="1016.6" x2="1330" y2="1016.6" stroke="#000" stroke-width="2"/>
<line x1="2316" y1="1016.6" x2="2303" y2="1016.6" stroke="#000" stroke-width="2"/>
<line x1="1317" y1="990.9" x2="1325" y2="990.9" stroke="#000" stroke-width="2"/>
<line x1="2316" y1="990.9" x2="2308" y2="990.9" stroke="#000" stroke-width="2"/>
<line x1="1317" y1="965.2" x2="1325" y2="965.2" stroke="#000" stroke-width="2"/>
<line x1="2316" y1="965.2" x2="2308" y2="965.2" stroke="#000" stroke-width="2"/>
<line x1="1317" y1="939.5" x2="1325" y2="939.5" stroke="#000" stroke-width="2"/>
<line x1="2316" y1="939.5" x2="2308" y2="939.5" stroke="#000" stroke-width="2"/>
<line x1="1317" y1="913.8" x2="1330" y2="913.8" stroke="#000" stroke-width="2"/>
<line x1="2316" y1="913.8" x2="2303" y2="913.8" stroke="#000" stroke-width="2"/>
<line x1="1317" y1="888.1" x2="1325" y2="888.1" stroke="#000" stroke-width="2"/>
<line x1="2316" y1="888.1" x2="2308" y2="888.1" stroke="#000" stroke-width="2"/>
<line x1="1317" y1="862.4" x2="1325" y2="862.4" stroke="#000" stroke-width="2"/>
<line x1="2316" y1="862.4" x2="2308" y2="862.4" stroke="#000" stroke-width="2"/>
<line x1="1317" y1="836.7" x2="1325" y2="836.7" stroke="#000" stroke-width="2"/>
<line x1="2316" y1="836.7" x2="2308" y2="836.7" stroke="#000" stroke-width="2"/>
<line x1="1317" y1="811" x2="1330" y2="811" stroke="#000" stroke-width="2"/>
<line x1="2316" y1="811" x2="2303" y2="811" stroke="#000" stroke-width="2"/>
<text x="1312.6" y="829" font-size="54" text-anchor="end">10</text>
<text x="1312.6" y="931.8" font-size="54" text-anchor="end">8</text>
<text x="1312.6" y="1034.6" font-size="54" text-anchor="end">6</text>
<text x="1312.6" y="1137.4" font-size="54" text-anchor="end">4</text>
<text x="1312.6" y="1240.2" font-size="54" text-anchor="end">2</text>
<text x="1312.6" y="1343" font-size="54" text-anchor="end">0</text>
<text x="1312.6" y="1445.8" font-size="54" text-anchor="end">2</text>
<text x="1242.4" y="1445.8" font-size="54" text-anchor="start">-</text>
<text x="1359" y="1489" font-size="54" text-anchor="middle">2</text>
<text x="1593.8" y="1489" font-size="54" text-anchor="middle">4</text>
<text x="1828.6" y="1489" font-size="54" text-anchor="middle">6</text>
<text x="2063.4" y="1489" font-size="54" text-anchor="middle">8</text>
<text x="2298.2" y="1489" font-size="54" text-anchor="middle">10</text>
<text x="1326.4" y="890" font-size="74" text-anchor="start">(d)</text>
<text x="1937.4" y="911.8" font-size="68" text-anchor="start">|J<tspan font-size="43.5" dy="13.4">ex</tspan><tspan dy="-13.4">|/R</tspan><tspan font-size="43.5" dy="-27.7">3</tspan></text>
<line x1="1959.3" y1="977.4" x2="2042" y2="977.4" stroke="#5555ff" stroke-width="6"/>
<text x="2057.1" y="990.4" font-size="37.5" text-anchor="start">0 cm<tspan font-size="24.5" dy="-14.5">-1</tspan><tspan dy="14.5"> </tspan><tspan style="font-weight:200;stroke:#000;stroke-width:0.9px">Å</tspan><tspan font-size="24.5" dy="-14.5">-3</tspan></text>
<line x1="1959.3" y1="1036" x2="2042" y2="1036" stroke="#0000ff" stroke-width="6" stroke-dasharray="30.5 4.1"/>
<text x="2057.1" y="1050.2" font-size="37.5" text-anchor="start">0.25 cm<tspan font-size="24.5" dy="-14.5">-1</tspan><tspan dy="14.5"> </tspan><tspan style="font-weight:200;stroke:#000;stroke-width:0.9px">Å</tspan><tspan font-size="24.5" dy="-14.5">-3</tspan></text>
<line x1="1959.3" y1="1095" x2="2042" y2="1095" stroke="#0000aa" stroke-width="6" stroke-dasharray="11 4"/>
<text x="2057.1" y="1111.3" font-size="37.5" text-anchor="start">1 cm<tspan font-size="24.5" dy="-14.5">-1</tspan><tspan dy="14.5"> </tspan><tspan style="font-weight:200;stroke:#000;stroke-width:0.9px">Å</tspan><tspan font-size="24.5" dy="-14.5">-3</tspan></text>
<text x="1719.5" y="958" font-size="64.5" text-anchor="start">J<tspan font-size="40.4" dy="12.4">ex</tspan><tspan dy="-12.4">&lt;0</tspan></text>
<text x="1719.2" y="1049.1" font-size="66.5" text-anchor="start">θ=80°</text>
<text transform="translate(1236,1308.1) rotate(-90)" x="0" y="0" font-size="52" text-anchor="start">Log</text>
<text transform="translate(1245.8,1214.5) rotate(-90)" x="0" y="0" font-size="33" text-anchor="start">10</text>
<text transform="translate(1237.7,1159.5) rotate(-90)" x="0" y="0" font-size="50" text-anchor="start">Γ</text>
<text transform="translate(1247.7,1132.4) rotate(-90)" x="0" y="0" font-size="33" text-anchor="start" style="letter-spacing:-2.2px;">τ→-τ</text>
<text transform="translate(1240.1,1040) rotate(-90)" x="0" y="0" font-size="58.5" text-anchor="start">(s</text>
<text transform="translate(1216.3,986.5) rotate(-90)" x="0" y="0" font-size="37" text-anchor="start">-1</text>
<text transform="translate(1240.1,948.8) rotate(-90)" x="0" y="0" font-size="58.5" text-anchor="start">)</text>
<text x="1768.2" y="1556.9" font-size="57.5" text-anchor="start">D/|J<tspan font-size="36" dy="10.6">ex</tspan><tspan dy="-10.6">|</tspan></text>
</svg>
</body></html>
